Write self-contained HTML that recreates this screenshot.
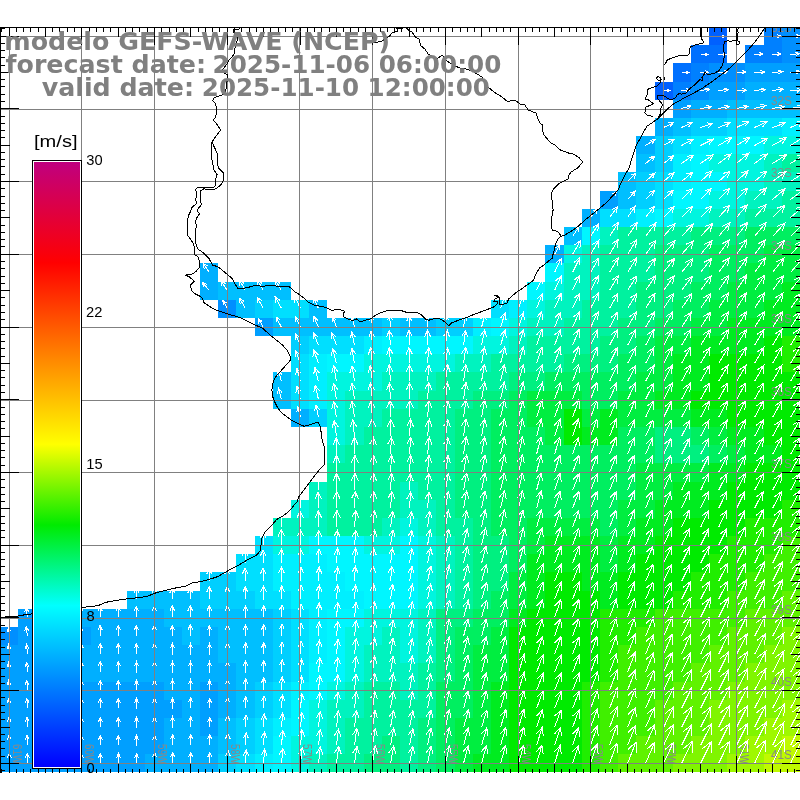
<!DOCTYPE html><html><head><meta charset="utf-8"><title>GEFS-WAVE</title><style>html,body{margin:0;padding:0;background:#fff;width:800px;height:800px;overflow:hidden}svg{display:block}.t{font-family:"DejaVu Sans","Liberation Sans",sans-serif;font-weight:bold;fill:#808080}.h{font-family:"Liberation Sans","DejaVu Sans",sans-serif;fill:#000}.g{font-family:"Liberation Sans","DejaVu Sans",sans-serif;fill:#888}</style></head><body><svg width="800" height="800" viewBox="0 0 800 800"><defs><clipPath id="map"><rect x="0" y="27" width="800" height="745.5"/></clipPath><linearGradient id="cb" x1="0" y1="1" x2="0" y2="0"><stop offset="0" stop-color="#0000ff"/><stop offset="0.2667" stop-color="#00ffff"/><stop offset="0.4000" stop-color="#00eb00"/><stop offset="0.5333" stop-color="#ffff00"/><stop offset="0.8333" stop-color="#ff0000"/><stop offset="1" stop-color="#c0007f"/></linearGradient></defs><g shape-rendering="crispEdges"><rect x="709" y="27" width="18" height="18" fill="#0060ff"/><rect x="764" y="27" width="18" height="18" fill="#0080ff"/><rect x="782" y="27" width="18" height="18" fill="#008fff"/><rect x="691" y="45" width="18" height="18" fill="#0070ff"/><rect x="709" y="45" width="18" height="18" fill="#0070ff"/><rect x="745" y="45" width="19" height="18" fill="#0080ff"/><rect x="764" y="45" width="18" height="18" fill="#0080ff"/><rect x="782" y="45" width="18" height="18" fill="#008fff"/><rect x="673" y="63" width="18" height="19" fill="#0070ff"/><rect x="691" y="63" width="18" height="19" fill="#0080ff"/><rect x="709" y="63" width="18" height="19" fill="#008fff"/><rect x="727" y="63" width="18" height="19" fill="#008fff"/><rect x="745" y="63" width="19" height="19" fill="#009fff"/><rect x="764" y="63" width="18" height="19" fill="#009fff"/><rect x="782" y="63" width="18" height="19" fill="#009fff"/><rect x="655" y="82" width="18" height="18" fill="#0060ff"/><rect x="673" y="82" width="18" height="18" fill="#0080ff"/><rect x="691" y="82" width="18" height="18" fill="#008fff"/><rect x="709" y="82" width="18" height="18" fill="#009fff"/><rect x="727" y="82" width="18" height="18" fill="#009fff"/><rect x="745" y="82" width="19" height="18" fill="#00afff"/><rect x="764" y="82" width="18" height="18" fill="#00afff"/><rect x="782" y="82" width="18" height="18" fill="#00afff"/><rect x="673" y="100" width="18" height="18" fill="#009fff"/><rect x="691" y="100" width="18" height="18" fill="#00afff"/><rect x="709" y="100" width="18" height="18" fill="#00afff"/><rect x="727" y="100" width="18" height="18" fill="#00bfff"/><rect x="745" y="100" width="19" height="18" fill="#00bfff"/><rect x="764" y="100" width="18" height="18" fill="#00bfff"/><rect x="782" y="100" width="18" height="18" fill="#00bfff"/><rect x="655" y="118" width="18" height="18" fill="#00afff"/><rect x="673" y="118" width="18" height="18" fill="#00bfff"/><rect x="691" y="118" width="18" height="18" fill="#00cfff"/><rect x="709" y="118" width="18" height="18" fill="#00cfff"/><rect x="727" y="118" width="18" height="18" fill="#00dfff"/><rect x="745" y="118" width="19" height="18" fill="#00dfff"/><rect x="764" y="118" width="18" height="18" fill="#00dfff"/><rect x="782" y="118" width="18" height="18" fill="#00efff"/><rect x="636" y="136" width="19" height="18" fill="#00afff"/><rect x="655" y="136" width="18" height="18" fill="#00cfff"/><rect x="673" y="136" width="18" height="18" fill="#00dfff"/><rect x="691" y="136" width="18" height="18" fill="#00efff"/><rect x="709" y="136" width="18" height="18" fill="#00f6ff"/><rect x="727" y="136" width="18" height="18" fill="#00f6ff"/><rect x="745" y="136" width="19" height="18" fill="#00f6ff"/><rect x="764" y="136" width="18" height="18" fill="#00f5df"/><rect x="782" y="136" width="18" height="18" fill="#00f5df"/><rect x="636" y="154" width="19" height="18" fill="#00bfff"/><rect x="655" y="154" width="18" height="18" fill="#00cfff"/><rect x="673" y="154" width="18" height="18" fill="#00efff"/><rect x="691" y="154" width="18" height="18" fill="#00f6ff"/><rect x="709" y="154" width="18" height="18" fill="#00f5df"/><rect x="727" y="154" width="18" height="18" fill="#00f5df"/><rect x="745" y="154" width="19" height="18" fill="#00f5df"/><rect x="764" y="154" width="18" height="18" fill="#00f3bf"/><rect x="782" y="154" width="18" height="18" fill="#00f29f"/><rect x="618" y="172" width="18" height="19" fill="#00bfff"/><rect x="636" y="172" width="19" height="19" fill="#00cfff"/><rect x="655" y="172" width="18" height="19" fill="#00dfff"/><rect x="673" y="172" width="18" height="19" fill="#00efff"/><rect x="691" y="172" width="18" height="19" fill="#00f6ff"/><rect x="709" y="172" width="18" height="19" fill="#00f6ff"/><rect x="727" y="172" width="18" height="19" fill="#00f5df"/><rect x="745" y="172" width="19" height="19" fill="#00f5df"/><rect x="764" y="172" width="18" height="19" fill="#00f3bf"/><rect x="782" y="172" width="18" height="19" fill="#00f3bf"/><rect x="600" y="191" width="18" height="18" fill="#009fff"/><rect x="618" y="191" width="18" height="18" fill="#00bfff"/><rect x="636" y="191" width="19" height="18" fill="#00cfff"/><rect x="655" y="191" width="18" height="18" fill="#00dfff"/><rect x="673" y="191" width="18" height="18" fill="#00f6ff"/><rect x="691" y="191" width="18" height="18" fill="#00f6ff"/><rect x="709" y="191" width="18" height="18" fill="#00f5df"/><rect x="727" y="191" width="18" height="18" fill="#00f5df"/><rect x="745" y="191" width="19" height="18" fill="#00f3bf"/><rect x="764" y="191" width="18" height="18" fill="#00f3bf"/><rect x="782" y="191" width="18" height="18" fill="#00f29f"/><rect x="582" y="209" width="18" height="18" fill="#00afff"/><rect x="600" y="209" width="18" height="18" fill="#00dfff"/><rect x="618" y="209" width="18" height="18" fill="#00dfff"/><rect x="636" y="209" width="19" height="18" fill="#00efff"/><rect x="655" y="209" width="18" height="18" fill="#00f6ff"/><rect x="673" y="209" width="18" height="18" fill="#00f5df"/><rect x="691" y="209" width="18" height="18" fill="#00f5df"/><rect x="709" y="209" width="18" height="18" fill="#00f3bf"/><rect x="727" y="209" width="18" height="18" fill="#00f3bf"/><rect x="745" y="209" width="19" height="18" fill="#00f29f"/><rect x="764" y="209" width="18" height="18" fill="#00f29f"/><rect x="782" y="209" width="18" height="18" fill="#00f29f"/><rect x="564" y="227" width="18" height="18" fill="#00bfff"/><rect x="582" y="227" width="18" height="18" fill="#00f6ff"/><rect x="600" y="227" width="18" height="18" fill="#00f3bf"/><rect x="618" y="227" width="18" height="18" fill="#00f29f"/><rect x="636" y="227" width="19" height="18" fill="#00f29f"/><rect x="655" y="227" width="18" height="18" fill="#00f29f"/><rect x="673" y="227" width="18" height="18" fill="#00f29f"/><rect x="691" y="227" width="18" height="18" fill="#00f080"/><rect x="709" y="227" width="18" height="18" fill="#00f080"/><rect x="727" y="227" width="18" height="18" fill="#00f080"/><rect x="745" y="227" width="19" height="18" fill="#00ef60"/><rect x="764" y="227" width="18" height="18" fill="#00ef60"/><rect x="782" y="227" width="18" height="18" fill="#00ef60"/><rect x="545" y="245" width="19" height="18" fill="#00afff"/><rect x="564" y="245" width="18" height="18" fill="#00f5df"/><rect x="582" y="245" width="18" height="18" fill="#00f3bf"/><rect x="600" y="245" width="18" height="18" fill="#00f29f"/><rect x="618" y="245" width="18" height="18" fill="#00f29f"/><rect x="636" y="245" width="19" height="18" fill="#00f29f"/><rect x="655" y="245" width="18" height="18" fill="#00f080"/><rect x="673" y="245" width="18" height="18" fill="#00f080"/><rect x="691" y="245" width="18" height="18" fill="#00f080"/><rect x="709" y="245" width="18" height="18" fill="#00ef60"/><rect x="727" y="245" width="18" height="18" fill="#00ef60"/><rect x="745" y="245" width="19" height="18" fill="#00ef60"/><rect x="764" y="245" width="18" height="18" fill="#00ee40"/><rect x="782" y="245" width="18" height="18" fill="#00ee40"/><rect x="200" y="263" width="18" height="19" fill="#00afff"/><rect x="545" y="263" width="19" height="19" fill="#00f6ff"/><rect x="564" y="263" width="18" height="19" fill="#00f3bf"/><rect x="582" y="263" width="18" height="19" fill="#00f3bf"/><rect x="600" y="263" width="18" height="19" fill="#00f29f"/><rect x="618" y="263" width="18" height="19" fill="#00f29f"/><rect x="636" y="263" width="19" height="19" fill="#00f29f"/><rect x="655" y="263" width="18" height="19" fill="#00f080"/><rect x="673" y="263" width="18" height="19" fill="#00f080"/><rect x="691" y="263" width="18" height="19" fill="#00f080"/><rect x="709" y="263" width="18" height="19" fill="#00ef60"/><rect x="727" y="263" width="18" height="19" fill="#00ef60"/><rect x="745" y="263" width="19" height="19" fill="#00ee40"/><rect x="764" y="263" width="18" height="19" fill="#00ee40"/><rect x="782" y="263" width="18" height="19" fill="#00ee40"/><rect x="200" y="282" width="18" height="18" fill="#00afff"/><rect x="218" y="282" width="18" height="18" fill="#00bfff"/><rect x="236" y="282" width="19" height="18" fill="#00bfff"/><rect x="255" y="282" width="18" height="18" fill="#00bfff"/><rect x="273" y="282" width="18" height="18" fill="#00bfff"/><rect x="527" y="282" width="18" height="18" fill="#00f6ff"/><rect x="545" y="282" width="19" height="18" fill="#00f5df"/><rect x="564" y="282" width="18" height="18" fill="#00f3bf"/><rect x="582" y="282" width="18" height="18" fill="#00f3bf"/><rect x="600" y="282" width="18" height="18" fill="#00f29f"/><rect x="618" y="282" width="18" height="18" fill="#00f29f"/><rect x="636" y="282" width="19" height="18" fill="#00f080"/><rect x="655" y="282" width="18" height="18" fill="#00f080"/><rect x="673" y="282" width="18" height="18" fill="#00f080"/><rect x="691" y="282" width="18" height="18" fill="#00ef60"/><rect x="709" y="282" width="18" height="18" fill="#00ef60"/><rect x="727" y="282" width="18" height="18" fill="#00ee40"/><rect x="745" y="282" width="19" height="18" fill="#00ee40"/><rect x="764" y="282" width="18" height="18" fill="#00ee40"/><rect x="782" y="282" width="18" height="18" fill="#00ec20"/><rect x="218" y="300" width="18" height="18" fill="#008fff"/><rect x="236" y="300" width="19" height="18" fill="#00bfff"/><rect x="255" y="300" width="18" height="18" fill="#00cfff"/><rect x="273" y="300" width="18" height="18" fill="#00dfff"/><rect x="291" y="300" width="18" height="18" fill="#00dfff"/><rect x="309" y="300" width="18" height="18" fill="#00bfff"/><rect x="491" y="300" width="18" height="18" fill="#00dfff"/><rect x="509" y="300" width="18" height="18" fill="#00efff"/><rect x="527" y="300" width="18" height="18" fill="#00f5df"/><rect x="545" y="300" width="19" height="18" fill="#00f3bf"/><rect x="564" y="300" width="18" height="18" fill="#00f3bf"/><rect x="582" y="300" width="18" height="18" fill="#00f29f"/><rect x="600" y="300" width="18" height="18" fill="#00f29f"/><rect x="618" y="300" width="18" height="18" fill="#00f29f"/><rect x="636" y="300" width="19" height="18" fill="#00f080"/><rect x="655" y="300" width="18" height="18" fill="#00f080"/><rect x="673" y="300" width="18" height="18" fill="#00ef60"/><rect x="691" y="300" width="18" height="18" fill="#00ef60"/><rect x="709" y="300" width="18" height="18" fill="#00ee40"/><rect x="727" y="300" width="18" height="18" fill="#00ee40"/><rect x="745" y="300" width="19" height="18" fill="#00ee40"/><rect x="764" y="300" width="18" height="18" fill="#00ec20"/><rect x="782" y="300" width="18" height="18" fill="#00ec20"/><rect x="255" y="318" width="18" height="18" fill="#009fff"/><rect x="273" y="318" width="18" height="18" fill="#00bfff"/><rect x="291" y="318" width="18" height="18" fill="#00bfff"/><rect x="309" y="318" width="18" height="18" fill="#00bfff"/><rect x="327" y="318" width="18" height="18" fill="#00bfff"/><rect x="345" y="318" width="19" height="18" fill="#00bfff"/><rect x="364" y="318" width="18" height="18" fill="#00bfff"/><rect x="382" y="318" width="18" height="18" fill="#00cfff"/><rect x="400" y="318" width="18" height="18" fill="#00bfff"/><rect x="418" y="318" width="18" height="18" fill="#00bfff"/><rect x="436" y="318" width="19" height="18" fill="#00cfff"/><rect x="455" y="318" width="18" height="18" fill="#00cfff"/><rect x="473" y="318" width="18" height="18" fill="#00efff"/><rect x="491" y="318" width="18" height="18" fill="#00f6ff"/><rect x="509" y="318" width="18" height="18" fill="#00f5df"/><rect x="527" y="318" width="18" height="18" fill="#00f3bf"/><rect x="545" y="318" width="19" height="18" fill="#00f3bf"/><rect x="564" y="318" width="18" height="18" fill="#00f29f"/><rect x="582" y="318" width="18" height="18" fill="#00f29f"/><rect x="600" y="318" width="18" height="18" fill="#00f29f"/><rect x="618" y="318" width="18" height="18" fill="#00f080"/><rect x="636" y="318" width="19" height="18" fill="#00f080"/><rect x="655" y="318" width="18" height="18" fill="#00ef60"/><rect x="673" y="318" width="18" height="18" fill="#00ef60"/><rect x="691" y="318" width="18" height="18" fill="#00ee40"/><rect x="709" y="318" width="18" height="18" fill="#00ee40"/><rect x="727" y="318" width="18" height="18" fill="#00ec20"/><rect x="745" y="318" width="19" height="18" fill="#00ec20"/><rect x="764" y="318" width="18" height="18" fill="#00ec20"/><rect x="782" y="318" width="18" height="18" fill="#00ec20"/><rect x="291" y="336" width="18" height="18" fill="#00cfff"/><rect x="309" y="336" width="18" height="18" fill="#00dfff"/><rect x="327" y="336" width="18" height="18" fill="#00dfff"/><rect x="345" y="336" width="19" height="18" fill="#00dfff"/><rect x="364" y="336" width="18" height="18" fill="#00efff"/><rect x="382" y="336" width="18" height="18" fill="#00f6ff"/><rect x="400" y="336" width="18" height="18" fill="#00f6ff"/><rect x="418" y="336" width="18" height="18" fill="#00f6ff"/><rect x="436" y="336" width="19" height="18" fill="#00f6ff"/><rect x="455" y="336" width="18" height="18" fill="#00f6ff"/><rect x="473" y="336" width="18" height="18" fill="#00f5df"/><rect x="491" y="336" width="18" height="18" fill="#00f5df"/><rect x="509" y="336" width="18" height="18" fill="#00f3bf"/><rect x="527" y="336" width="18" height="18" fill="#00f29f"/><rect x="545" y="336" width="19" height="18" fill="#00f29f"/><rect x="564" y="336" width="18" height="18" fill="#00f29f"/><rect x="582" y="336" width="18" height="18" fill="#00f29f"/><rect x="600" y="336" width="18" height="18" fill="#00f080"/><rect x="618" y="336" width="18" height="18" fill="#00f080"/><rect x="636" y="336" width="19" height="18" fill="#00ef60"/><rect x="655" y="336" width="18" height="18" fill="#00ee40"/><rect x="673" y="336" width="18" height="18" fill="#00ee40"/><rect x="691" y="336" width="18" height="18" fill="#00ec20"/><rect x="709" y="336" width="18" height="18" fill="#00ec20"/><rect x="727" y="336" width="18" height="18" fill="#00ec20"/><rect x="745" y="336" width="19" height="18" fill="#00ec20"/><rect x="764" y="336" width="18" height="18" fill="#00eb00"/><rect x="782" y="336" width="18" height="18" fill="#20ee00"/><rect x="291" y="354" width="18" height="18" fill="#00dfff"/><rect x="309" y="354" width="18" height="18" fill="#00efff"/><rect x="327" y="354" width="18" height="18" fill="#00f6ff"/><rect x="345" y="354" width="19" height="18" fill="#00f6ff"/><rect x="364" y="354" width="18" height="18" fill="#00f5df"/><rect x="382" y="354" width="18" height="18" fill="#00f5df"/><rect x="400" y="354" width="18" height="18" fill="#00f5df"/><rect x="418" y="354" width="18" height="18" fill="#00f5df"/><rect x="436" y="354" width="19" height="18" fill="#00f5df"/><rect x="455" y="354" width="18" height="18" fill="#00f3bf"/><rect x="473" y="354" width="18" height="18" fill="#00f3bf"/><rect x="491" y="354" width="18" height="18" fill="#00f29f"/><rect x="509" y="354" width="18" height="18" fill="#00f29f"/><rect x="527" y="354" width="18" height="18" fill="#00f29f"/><rect x="545" y="354" width="19" height="18" fill="#00f29f"/><rect x="564" y="354" width="18" height="18" fill="#00f080"/><rect x="582" y="354" width="18" height="18" fill="#00f080"/><rect x="600" y="354" width="18" height="18" fill="#00f080"/><rect x="618" y="354" width="18" height="18" fill="#00ef60"/><rect x="636" y="354" width="19" height="18" fill="#00ef60"/><rect x="655" y="354" width="18" height="18" fill="#00ee40"/><rect x="673" y="354" width="18" height="18" fill="#00ec20"/><rect x="691" y="354" width="18" height="18" fill="#00ec20"/><rect x="709" y="354" width="18" height="18" fill="#00eb00"/><rect x="727" y="354" width="18" height="18" fill="#00eb00"/><rect x="745" y="354" width="19" height="18" fill="#00eb00"/><rect x="764" y="354" width="18" height="18" fill="#00eb00"/><rect x="782" y="354" width="18" height="18" fill="#20ee00"/><rect x="273" y="372" width="18" height="19" fill="#00bfff"/><rect x="291" y="372" width="18" height="19" fill="#00dfff"/><rect x="309" y="372" width="18" height="19" fill="#00efff"/><rect x="327" y="372" width="18" height="19" fill="#00f5df"/><rect x="345" y="372" width="19" height="19" fill="#00f5df"/><rect x="364" y="372" width="18" height="19" fill="#00f5df"/><rect x="382" y="372" width="18" height="19" fill="#00f3bf"/><rect x="400" y="372" width="18" height="19" fill="#00f3bf"/><rect x="418" y="372" width="18" height="19" fill="#00f3bf"/><rect x="436" y="372" width="19" height="19" fill="#00f29f"/><rect x="455" y="372" width="18" height="19" fill="#00f29f"/><rect x="473" y="372" width="18" height="19" fill="#00f29f"/><rect x="491" y="372" width="18" height="19" fill="#00f29f"/><rect x="509" y="372" width="18" height="19" fill="#00f080"/><rect x="527" y="372" width="18" height="19" fill="#00f080"/><rect x="545" y="372" width="19" height="19" fill="#00ef60"/><rect x="564" y="372" width="18" height="19" fill="#00ef60"/><rect x="582" y="372" width="18" height="19" fill="#00ef60"/><rect x="600" y="372" width="18" height="19" fill="#00ef60"/><rect x="618" y="372" width="18" height="19" fill="#00ef60"/><rect x="636" y="372" width="19" height="19" fill="#00ee40"/><rect x="655" y="372" width="18" height="19" fill="#00ee40"/><rect x="673" y="372" width="18" height="19" fill="#00ec20"/><rect x="691" y="372" width="18" height="19" fill="#00ec20"/><rect x="709" y="372" width="18" height="19" fill="#00eb00"/><rect x="727" y="372" width="18" height="19" fill="#00eb00"/><rect x="745" y="372" width="19" height="19" fill="#00eb00"/><rect x="764" y="372" width="18" height="19" fill="#00eb00"/><rect x="782" y="372" width="18" height="19" fill="#00eb00"/><rect x="273" y="391" width="18" height="18" fill="#00bfff"/><rect x="291" y="391" width="18" height="18" fill="#00dfff"/><rect x="309" y="391" width="18" height="18" fill="#00efff"/><rect x="327" y="391" width="18" height="18" fill="#00f5df"/><rect x="345" y="391" width="19" height="18" fill="#00f3bf"/><rect x="364" y="391" width="18" height="18" fill="#00f3bf"/><rect x="382" y="391" width="18" height="18" fill="#00f3bf"/><rect x="400" y="391" width="18" height="18" fill="#00f3bf"/><rect x="418" y="391" width="18" height="18" fill="#00f29f"/><rect x="436" y="391" width="19" height="18" fill="#00f29f"/><rect x="455" y="391" width="18" height="18" fill="#00f29f"/><rect x="473" y="391" width="18" height="18" fill="#00f080"/><rect x="491" y="391" width="18" height="18" fill="#00f080"/><rect x="509" y="391" width="18" height="18" fill="#00ef60"/><rect x="527" y="391" width="18" height="18" fill="#00ee40"/><rect x="545" y="391" width="19" height="18" fill="#00ee40"/><rect x="564" y="391" width="18" height="18" fill="#00ee40"/><rect x="582" y="391" width="18" height="18" fill="#00ef60"/><rect x="600" y="391" width="18" height="18" fill="#00ef60"/><rect x="618" y="391" width="18" height="18" fill="#00ee40"/><rect x="636" y="391" width="19" height="18" fill="#00ee40"/><rect x="655" y="391" width="18" height="18" fill="#00ec20"/><rect x="673" y="391" width="18" height="18" fill="#00ec20"/><rect x="691" y="391" width="18" height="18" fill="#00eb00"/><rect x="709" y="391" width="18" height="18" fill="#00eb00"/><rect x="727" y="391" width="18" height="18" fill="#00eb00"/><rect x="745" y="391" width="19" height="18" fill="#00eb00"/><rect x="764" y="391" width="18" height="18" fill="#00eb00"/><rect x="782" y="391" width="18" height="18" fill="#00eb00"/><rect x="291" y="409" width="18" height="18" fill="#00afff"/><rect x="309" y="409" width="18" height="18" fill="#00cfff"/><rect x="327" y="409" width="18" height="18" fill="#00f5df"/><rect x="345" y="409" width="19" height="18" fill="#00f3bf"/><rect x="364" y="409" width="18" height="18" fill="#00f3bf"/><rect x="382" y="409" width="18" height="18" fill="#00f29f"/><rect x="400" y="409" width="18" height="18" fill="#00f29f"/><rect x="418" y="409" width="18" height="18" fill="#00f29f"/><rect x="436" y="409" width="19" height="18" fill="#00f29f"/><rect x="455" y="409" width="18" height="18" fill="#00f080"/><rect x="473" y="409" width="18" height="18" fill="#00f080"/><rect x="491" y="409" width="18" height="18" fill="#00ef60"/><rect x="509" y="409" width="18" height="18" fill="#00ef60"/><rect x="527" y="409" width="18" height="18" fill="#00ee40"/><rect x="545" y="409" width="19" height="18" fill="#00ee40"/><rect x="564" y="409" width="18" height="18" fill="#00eb00"/><rect x="582" y="409" width="18" height="18" fill="#00ee40"/><rect x="600" y="409" width="18" height="18" fill="#00ec20"/><rect x="618" y="409" width="18" height="18" fill="#00ee40"/><rect x="636" y="409" width="19" height="18" fill="#00ee40"/><rect x="655" y="409" width="18" height="18" fill="#00ee40"/><rect x="673" y="409" width="18" height="18" fill="#00ee40"/><rect x="691" y="409" width="18" height="18" fill="#00ec20"/><rect x="709" y="409" width="18" height="18" fill="#00ec20"/><rect x="727" y="409" width="18" height="18" fill="#00eb00"/><rect x="745" y="409" width="19" height="18" fill="#00eb00"/><rect x="764" y="409" width="18" height="18" fill="#00eb00"/><rect x="782" y="409" width="18" height="18" fill="#00eb00"/><rect x="327" y="427" width="18" height="18" fill="#00f5df"/><rect x="345" y="427" width="19" height="18" fill="#00f3bf"/><rect x="364" y="427" width="18" height="18" fill="#00f29f"/><rect x="382" y="427" width="18" height="18" fill="#00f29f"/><rect x="400" y="427" width="18" height="18" fill="#00f29f"/><rect x="418" y="427" width="18" height="18" fill="#00f29f"/><rect x="436" y="427" width="19" height="18" fill="#00f29f"/><rect x="455" y="427" width="18" height="18" fill="#00f080"/><rect x="473" y="427" width="18" height="18" fill="#00f080"/><rect x="491" y="427" width="18" height="18" fill="#00ef60"/><rect x="509" y="427" width="18" height="18" fill="#00ef60"/><rect x="527" y="427" width="18" height="18" fill="#00ef60"/><rect x="545" y="427" width="19" height="18" fill="#00ee40"/><rect x="564" y="427" width="18" height="18" fill="#00eb00"/><rect x="582" y="427" width="18" height="18" fill="#00ec20"/><rect x="600" y="427" width="18" height="18" fill="#00ec20"/><rect x="618" y="427" width="18" height="18" fill="#00ef60"/><rect x="636" y="427" width="19" height="18" fill="#00ef60"/><rect x="655" y="427" width="18" height="18" fill="#00f080"/><rect x="673" y="427" width="18" height="18" fill="#00f080"/><rect x="691" y="427" width="18" height="18" fill="#00ef60"/><rect x="709" y="427" width="18" height="18" fill="#00ee40"/><rect x="727" y="427" width="18" height="18" fill="#00ec20"/><rect x="745" y="427" width="19" height="18" fill="#00ec20"/><rect x="764" y="427" width="18" height="18" fill="#00eb00"/><rect x="782" y="427" width="18" height="18" fill="#00eb00"/><rect x="327" y="445" width="18" height="18" fill="#00f3bf"/><rect x="345" y="445" width="19" height="18" fill="#00f29f"/><rect x="364" y="445" width="18" height="18" fill="#00f29f"/><rect x="382" y="445" width="18" height="18" fill="#00f29f"/><rect x="400" y="445" width="18" height="18" fill="#00f29f"/><rect x="418" y="445" width="18" height="18" fill="#00f29f"/><rect x="436" y="445" width="19" height="18" fill="#00f29f"/><rect x="455" y="445" width="18" height="18" fill="#00f080"/><rect x="473" y="445" width="18" height="18" fill="#00f080"/><rect x="491" y="445" width="18" height="18" fill="#00ef60"/><rect x="509" y="445" width="18" height="18" fill="#00ef60"/><rect x="527" y="445" width="18" height="18" fill="#00ef60"/><rect x="545" y="445" width="19" height="18" fill="#00ef60"/><rect x="564" y="445" width="18" height="18" fill="#00ef60"/><rect x="582" y="445" width="18" height="18" fill="#00ef60"/><rect x="600" y="445" width="18" height="18" fill="#00ef60"/><rect x="618" y="445" width="18" height="18" fill="#00ef60"/><rect x="636" y="445" width="19" height="18" fill="#00ef60"/><rect x="655" y="445" width="18" height="18" fill="#00f080"/><rect x="673" y="445" width="18" height="18" fill="#00f080"/><rect x="691" y="445" width="18" height="18" fill="#00f080"/><rect x="709" y="445" width="18" height="18" fill="#00ef60"/><rect x="727" y="445" width="18" height="18" fill="#00ee40"/><rect x="745" y="445" width="19" height="18" fill="#00ec20"/><rect x="764" y="445" width="18" height="18" fill="#00ec20"/><rect x="782" y="445" width="18" height="18" fill="#00eb00"/><rect x="327" y="463" width="18" height="19" fill="#00f29f"/><rect x="345" y="463" width="19" height="19" fill="#00f29f"/><rect x="364" y="463" width="18" height="19" fill="#00f29f"/><rect x="382" y="463" width="18" height="19" fill="#00f29f"/><rect x="400" y="463" width="18" height="19" fill="#00f29f"/><rect x="418" y="463" width="18" height="19" fill="#00f29f"/><rect x="436" y="463" width="19" height="19" fill="#00f29f"/><rect x="455" y="463" width="18" height="19" fill="#00f080"/><rect x="473" y="463" width="18" height="19" fill="#00f080"/><rect x="491" y="463" width="18" height="19" fill="#00ef60"/><rect x="509" y="463" width="18" height="19" fill="#00ef60"/><rect x="527" y="463" width="18" height="19" fill="#00ef60"/><rect x="545" y="463" width="19" height="19" fill="#00ef60"/><rect x="564" y="463" width="18" height="19" fill="#00ef60"/><rect x="582" y="463" width="18" height="19" fill="#00ef60"/><rect x="600" y="463" width="18" height="19" fill="#00ef60"/><rect x="618" y="463" width="18" height="19" fill="#00ef60"/><rect x="636" y="463" width="19" height="19" fill="#00ee40"/><rect x="655" y="463" width="18" height="19" fill="#00ee40"/><rect x="673" y="463" width="18" height="19" fill="#00ee40"/><rect x="691" y="463" width="18" height="19" fill="#00ee40"/><rect x="709" y="463" width="18" height="19" fill="#00ec20"/><rect x="727" y="463" width="18" height="19" fill="#00ec20"/><rect x="745" y="463" width="19" height="19" fill="#00eb00"/><rect x="764" y="463" width="18" height="19" fill="#00eb00"/><rect x="782" y="463" width="18" height="19" fill="#00eb00"/><rect x="309" y="482" width="18" height="18" fill="#00f3bf"/><rect x="327" y="482" width="18" height="18" fill="#00f29f"/><rect x="345" y="482" width="19" height="18" fill="#00f29f"/><rect x="364" y="482" width="18" height="18" fill="#00f29f"/><rect x="382" y="482" width="18" height="18" fill="#00f29f"/><rect x="400" y="482" width="18" height="18" fill="#00f3bf"/><rect x="418" y="482" width="18" height="18" fill="#00f29f"/><rect x="436" y="482" width="19" height="18" fill="#00f29f"/><rect x="455" y="482" width="18" height="18" fill="#00f080"/><rect x="473" y="482" width="18" height="18" fill="#00f080"/><rect x="491" y="482" width="18" height="18" fill="#00ef60"/><rect x="509" y="482" width="18" height="18" fill="#00ef60"/><rect x="527" y="482" width="18" height="18" fill="#00ef60"/><rect x="545" y="482" width="19" height="18" fill="#00ef60"/><rect x="564" y="482" width="18" height="18" fill="#00ef60"/><rect x="582" y="482" width="18" height="18" fill="#00ef60"/><rect x="600" y="482" width="18" height="18" fill="#00ef60"/><rect x="618" y="482" width="18" height="18" fill="#00ef60"/><rect x="636" y="482" width="19" height="18" fill="#00ee40"/><rect x="655" y="482" width="18" height="18" fill="#00ee40"/><rect x="673" y="482" width="18" height="18" fill="#00ec20"/><rect x="691" y="482" width="18" height="18" fill="#00ec20"/><rect x="709" y="482" width="18" height="18" fill="#00ec20"/><rect x="727" y="482" width="18" height="18" fill="#00eb00"/><rect x="745" y="482" width="19" height="18" fill="#00eb00"/><rect x="764" y="482" width="18" height="18" fill="#00eb00"/><rect x="782" y="482" width="18" height="18" fill="#00eb00"/><rect x="291" y="500" width="18" height="18" fill="#00f5df"/><rect x="309" y="500" width="18" height="18" fill="#00f3bf"/><rect x="327" y="500" width="18" height="18" fill="#00f29f"/><rect x="345" y="500" width="19" height="18" fill="#00f29f"/><rect x="364" y="500" width="18" height="18" fill="#00f29f"/><rect x="382" y="500" width="18" height="18" fill="#00f29f"/><rect x="400" y="500" width="18" height="18" fill="#00f3bf"/><rect x="418" y="500" width="18" height="18" fill="#00f3bf"/><rect x="436" y="500" width="19" height="18" fill="#00f29f"/><rect x="455" y="500" width="18" height="18" fill="#00f080"/><rect x="473" y="500" width="18" height="18" fill="#00f080"/><rect x="491" y="500" width="18" height="18" fill="#00ef60"/><rect x="509" y="500" width="18" height="18" fill="#00ef60"/><rect x="527" y="500" width="18" height="18" fill="#00ef60"/><rect x="545" y="500" width="19" height="18" fill="#00ef60"/><rect x="564" y="500" width="18" height="18" fill="#00ef60"/><rect x="582" y="500" width="18" height="18" fill="#00ef60"/><rect x="600" y="500" width="18" height="18" fill="#00ef60"/><rect x="618" y="500" width="18" height="18" fill="#00ee40"/><rect x="636" y="500" width="19" height="18" fill="#00ee40"/><rect x="655" y="500" width="18" height="18" fill="#00ec20"/><rect x="673" y="500" width="18" height="18" fill="#00ec20"/><rect x="691" y="500" width="18" height="18" fill="#00ec20"/><rect x="709" y="500" width="18" height="18" fill="#00eb00"/><rect x="727" y="500" width="18" height="18" fill="#00eb00"/><rect x="745" y="500" width="19" height="18" fill="#00eb00"/><rect x="764" y="500" width="18" height="18" fill="#00eb00"/><rect x="782" y="500" width="18" height="18" fill="#20ee00"/><rect x="273" y="518" width="18" height="18" fill="#00f3bf"/><rect x="291" y="518" width="18" height="18" fill="#00f3bf"/><rect x="309" y="518" width="18" height="18" fill="#00f3bf"/><rect x="327" y="518" width="18" height="18" fill="#00f29f"/><rect x="345" y="518" width="19" height="18" fill="#00f29f"/><rect x="364" y="518" width="18" height="18" fill="#00f29f"/><rect x="382" y="518" width="18" height="18" fill="#00f3bf"/><rect x="400" y="518" width="18" height="18" fill="#00f5df"/><rect x="418" y="518" width="18" height="18" fill="#00f3bf"/><rect x="436" y="518" width="19" height="18" fill="#00f29f"/><rect x="455" y="518" width="18" height="18" fill="#00f29f"/><rect x="473" y="518" width="18" height="18" fill="#00f080"/><rect x="491" y="518" width="18" height="18" fill="#00ef60"/><rect x="509" y="518" width="18" height="18" fill="#00ef60"/><rect x="527" y="518" width="18" height="18" fill="#00ee40"/><rect x="545" y="518" width="19" height="18" fill="#00ee40"/><rect x="564" y="518" width="18" height="18" fill="#00ee40"/><rect x="582" y="518" width="18" height="18" fill="#00ee40"/><rect x="600" y="518" width="18" height="18" fill="#00ef60"/><rect x="618" y="518" width="18" height="18" fill="#00ee40"/><rect x="636" y="518" width="19" height="18" fill="#00ec20"/><rect x="655" y="518" width="18" height="18" fill="#00ec20"/><rect x="673" y="518" width="18" height="18" fill="#00eb00"/><rect x="691" y="518" width="18" height="18" fill="#00eb00"/><rect x="709" y="518" width="18" height="18" fill="#00eb00"/><rect x="727" y="518" width="18" height="18" fill="#00eb00"/><rect x="745" y="518" width="19" height="18" fill="#20ee00"/><rect x="764" y="518" width="18" height="18" fill="#20ee00"/><rect x="782" y="518" width="18" height="18" fill="#20ee00"/><rect x="255" y="536" width="18" height="18" fill="#00dfff"/><rect x="273" y="536" width="18" height="18" fill="#00f5df"/><rect x="291" y="536" width="18" height="18" fill="#00f5df"/><rect x="309" y="536" width="18" height="18" fill="#00f6ff"/><rect x="327" y="536" width="18" height="18" fill="#00f6ff"/><rect x="345" y="536" width="19" height="18" fill="#00f6ff"/><rect x="364" y="536" width="18" height="18" fill="#00f5df"/><rect x="382" y="536" width="18" height="18" fill="#00f5df"/><rect x="400" y="536" width="18" height="18" fill="#00f6ff"/><rect x="418" y="536" width="18" height="18" fill="#00f5df"/><rect x="436" y="536" width="19" height="18" fill="#00f3bf"/><rect x="455" y="536" width="18" height="18" fill="#00f29f"/><rect x="473" y="536" width="18" height="18" fill="#00f080"/><rect x="491" y="536" width="18" height="18" fill="#00f080"/><rect x="509" y="536" width="18" height="18" fill="#00ef60"/><rect x="527" y="536" width="18" height="18" fill="#00ee40"/><rect x="545" y="536" width="19" height="18" fill="#00ec20"/><rect x="564" y="536" width="18" height="18" fill="#00ec20"/><rect x="582" y="536" width="18" height="18" fill="#00ec20"/><rect x="600" y="536" width="18" height="18" fill="#00ee40"/><rect x="618" y="536" width="18" height="18" fill="#00ec20"/><rect x="636" y="536" width="19" height="18" fill="#00ec20"/><rect x="655" y="536" width="18" height="18" fill="#00eb00"/><rect x="673" y="536" width="18" height="18" fill="#00eb00"/><rect x="691" y="536" width="18" height="18" fill="#00eb00"/><rect x="709" y="536" width="18" height="18" fill="#00eb00"/><rect x="727" y="536" width="18" height="18" fill="#20ee00"/><rect x="745" y="536" width="19" height="18" fill="#20ee00"/><rect x="764" y="536" width="18" height="18" fill="#20ee00"/><rect x="782" y="536" width="18" height="18" fill="#40f000"/><rect x="236" y="554" width="19" height="18" fill="#00dfff"/><rect x="255" y="554" width="18" height="18" fill="#00dfff"/><rect x="273" y="554" width="18" height="18" fill="#00efff"/><rect x="291" y="554" width="18" height="18" fill="#00efff"/><rect x="309" y="554" width="18" height="18" fill="#00efff"/><rect x="327" y="554" width="18" height="18" fill="#00f6ff"/><rect x="345" y="554" width="19" height="18" fill="#00f6ff"/><rect x="364" y="554" width="18" height="18" fill="#00f6ff"/><rect x="382" y="554" width="18" height="18" fill="#00f6ff"/><rect x="400" y="554" width="18" height="18" fill="#00f6ff"/><rect x="418" y="554" width="18" height="18" fill="#00f5df"/><rect x="436" y="554" width="19" height="18" fill="#00f3bf"/><rect x="455" y="554" width="18" height="18" fill="#00f29f"/><rect x="473" y="554" width="18" height="18" fill="#00f080"/><rect x="491" y="554" width="18" height="18" fill="#00f080"/><rect x="509" y="554" width="18" height="18" fill="#00ef60"/><rect x="527" y="554" width="18" height="18" fill="#00ec20"/><rect x="545" y="554" width="19" height="18" fill="#00ec20"/><rect x="564" y="554" width="18" height="18" fill="#00ec20"/><rect x="582" y="554" width="18" height="18" fill="#00ec20"/><rect x="600" y="554" width="18" height="18" fill="#00ee40"/><rect x="618" y="554" width="18" height="18" fill="#00ec20"/><rect x="636" y="554" width="19" height="18" fill="#00eb00"/><rect x="655" y="554" width="18" height="18" fill="#00eb00"/><rect x="673" y="554" width="18" height="18" fill="#00eb00"/><rect x="691" y="554" width="18" height="18" fill="#00eb00"/><rect x="709" y="554" width="18" height="18" fill="#20ee00"/><rect x="727" y="554" width="18" height="18" fill="#20ee00"/><rect x="745" y="554" width="19" height="18" fill="#20ee00"/><rect x="764" y="554" width="18" height="18" fill="#40f000"/><rect x="782" y="554" width="18" height="18" fill="#40f000"/><rect x="200" y="572" width="18" height="19" fill="#00cfff"/><rect x="218" y="572" width="18" height="19" fill="#00cfff"/><rect x="236" y="572" width="19" height="19" fill="#00dfff"/><rect x="255" y="572" width="18" height="19" fill="#00dfff"/><rect x="273" y="572" width="18" height="19" fill="#00efff"/><rect x="291" y="572" width="18" height="19" fill="#00efff"/><rect x="309" y="572" width="18" height="19" fill="#00efff"/><rect x="327" y="572" width="18" height="19" fill="#00efff"/><rect x="345" y="572" width="19" height="19" fill="#00f6ff"/><rect x="364" y="572" width="18" height="19" fill="#00f6ff"/><rect x="382" y="572" width="18" height="19" fill="#00f6ff"/><rect x="400" y="572" width="18" height="19" fill="#00f6ff"/><rect x="418" y="572" width="18" height="19" fill="#00f5df"/><rect x="436" y="572" width="19" height="19" fill="#00f3bf"/><rect x="455" y="572" width="18" height="19" fill="#00f29f"/><rect x="473" y="572" width="18" height="19" fill="#00f080"/><rect x="491" y="572" width="18" height="19" fill="#00f080"/><rect x="509" y="572" width="18" height="19" fill="#00ee40"/><rect x="527" y="572" width="18" height="19" fill="#00ec20"/><rect x="545" y="572" width="19" height="19" fill="#00eb00"/><rect x="564" y="572" width="18" height="19" fill="#00eb00"/><rect x="582" y="572" width="18" height="19" fill="#00ec20"/><rect x="600" y="572" width="18" height="19" fill="#00ec20"/><rect x="618" y="572" width="18" height="19" fill="#00eb00"/><rect x="636" y="572" width="19" height="19" fill="#00eb00"/><rect x="655" y="572" width="18" height="19" fill="#00eb00"/><rect x="673" y="572" width="18" height="19" fill="#00eb00"/><rect x="691" y="572" width="18" height="19" fill="#20ee00"/><rect x="709" y="572" width="18" height="19" fill="#20ee00"/><rect x="727" y="572" width="18" height="19" fill="#20ee00"/><rect x="745" y="572" width="19" height="19" fill="#40f000"/><rect x="764" y="572" width="18" height="19" fill="#40f000"/><rect x="782" y="572" width="18" height="19" fill="#40f000"/><rect x="127" y="591" width="18" height="18" fill="#00bfff"/><rect x="145" y="591" width="19" height="18" fill="#00bfff"/><rect x="164" y="591" width="18" height="18" fill="#00bfff"/><rect x="182" y="591" width="18" height="18" fill="#00bfff"/><rect x="200" y="591" width="18" height="18" fill="#00cfff"/><rect x="218" y="591" width="18" height="18" fill="#00cfff"/><rect x="236" y="591" width="19" height="18" fill="#00cfff"/><rect x="255" y="591" width="18" height="18" fill="#00dfff"/><rect x="273" y="591" width="18" height="18" fill="#00dfff"/><rect x="291" y="591" width="18" height="18" fill="#00efff"/><rect x="309" y="591" width="18" height="18" fill="#00efff"/><rect x="327" y="591" width="18" height="18" fill="#00efff"/><rect x="345" y="591" width="19" height="18" fill="#00efff"/><rect x="364" y="591" width="18" height="18" fill="#00f6ff"/><rect x="382" y="591" width="18" height="18" fill="#00f6ff"/><rect x="400" y="591" width="18" height="18" fill="#00f6ff"/><rect x="418" y="591" width="18" height="18" fill="#00f5df"/><rect x="436" y="591" width="19" height="18" fill="#00f3bf"/><rect x="455" y="591" width="18" height="18" fill="#00f29f"/><rect x="473" y="591" width="18" height="18" fill="#00f080"/><rect x="491" y="591" width="18" height="18" fill="#00ef60"/><rect x="509" y="591" width="18" height="18" fill="#00ee40"/><rect x="527" y="591" width="18" height="18" fill="#00ec20"/><rect x="545" y="591" width="19" height="18" fill="#00eb00"/><rect x="564" y="591" width="18" height="18" fill="#00eb00"/><rect x="582" y="591" width="18" height="18" fill="#00eb00"/><rect x="600" y="591" width="18" height="18" fill="#00ec20"/><rect x="618" y="591" width="18" height="18" fill="#00eb00"/><rect x="636" y="591" width="19" height="18" fill="#00eb00"/><rect x="655" y="591" width="18" height="18" fill="#00eb00"/><rect x="673" y="591" width="18" height="18" fill="#20ee00"/><rect x="691" y="591" width="18" height="18" fill="#20ee00"/><rect x="709" y="591" width="18" height="18" fill="#20ee00"/><rect x="727" y="591" width="18" height="18" fill="#40f000"/><rect x="745" y="591" width="19" height="18" fill="#40f000"/><rect x="764" y="591" width="18" height="18" fill="#40f000"/><rect x="782" y="591" width="18" height="18" fill="#60f200"/><rect x="18" y="609" width="18" height="18" fill="#009fff"/><rect x="36" y="609" width="19" height="18" fill="#00afff"/><rect x="55" y="609" width="18" height="18" fill="#00afff"/><rect x="73" y="609" width="18" height="18" fill="#00afff"/><rect x="91" y="609" width="18" height="18" fill="#00afff"/><rect x="109" y="609" width="18" height="18" fill="#00afff"/><rect x="127" y="609" width="18" height="18" fill="#00afff"/><rect x="145" y="609" width="19" height="18" fill="#00afff"/><rect x="164" y="609" width="18" height="18" fill="#00bfff"/><rect x="182" y="609" width="18" height="18" fill="#00bfff"/><rect x="200" y="609" width="18" height="18" fill="#00bfff"/><rect x="218" y="609" width="18" height="18" fill="#00bfff"/><rect x="236" y="609" width="19" height="18" fill="#00bfff"/><rect x="255" y="609" width="18" height="18" fill="#00bfff"/><rect x="273" y="609" width="18" height="18" fill="#00cfff"/><rect x="291" y="609" width="18" height="18" fill="#00dfff"/><rect x="309" y="609" width="18" height="18" fill="#00efff"/><rect x="327" y="609" width="18" height="18" fill="#00f6ff"/><rect x="345" y="609" width="19" height="18" fill="#00f6ff"/><rect x="364" y="609" width="18" height="18" fill="#00f5df"/><rect x="382" y="609" width="18" height="18" fill="#00f5df"/><rect x="400" y="609" width="18" height="18" fill="#00f5df"/><rect x="418" y="609" width="18" height="18" fill="#00f3bf"/><rect x="436" y="609" width="19" height="18" fill="#00f080"/><rect x="455" y="609" width="18" height="18" fill="#00f080"/><rect x="473" y="609" width="18" height="18" fill="#00ef60"/><rect x="491" y="609" width="18" height="18" fill="#00ef60"/><rect x="509" y="609" width="18" height="18" fill="#00ec20"/><rect x="527" y="609" width="18" height="18" fill="#00eb00"/><rect x="545" y="609" width="19" height="18" fill="#00eb00"/><rect x="564" y="609" width="18" height="18" fill="#00eb00"/><rect x="582" y="609" width="18" height="18" fill="#00eb00"/><rect x="600" y="609" width="18" height="18" fill="#20ee00"/><rect x="618" y="609" width="18" height="18" fill="#20ee00"/><rect x="636" y="609" width="19" height="18" fill="#20ee00"/><rect x="655" y="609" width="18" height="18" fill="#40f000"/><rect x="673" y="609" width="18" height="18" fill="#40f000"/><rect x="691" y="609" width="18" height="18" fill="#40f000"/><rect x="709" y="609" width="18" height="18" fill="#40f000"/><rect x="727" y="609" width="18" height="18" fill="#40f000"/><rect x="745" y="609" width="19" height="18" fill="#60f200"/><rect x="764" y="609" width="18" height="18" fill="#60f200"/><rect x="782" y="609" width="18" height="18" fill="#60f200"/><rect x="0" y="627" width="18" height="18" fill="#008fff"/><rect x="18" y="627" width="18" height="18" fill="#009fff"/><rect x="36" y="627" width="19" height="18" fill="#00afff"/><rect x="55" y="627" width="18" height="18" fill="#00afff"/><rect x="73" y="627" width="18" height="18" fill="#009fff"/><rect x="91" y="627" width="18" height="18" fill="#00afff"/><rect x="109" y="627" width="18" height="18" fill="#00afff"/><rect x="127" y="627" width="18" height="18" fill="#00afff"/><rect x="145" y="627" width="19" height="18" fill="#00afff"/><rect x="164" y="627" width="18" height="18" fill="#00afff"/><rect x="182" y="627" width="18" height="18" fill="#00bfff"/><rect x="200" y="627" width="18" height="18" fill="#00afff"/><rect x="218" y="627" width="18" height="18" fill="#00bfff"/><rect x="236" y="627" width="19" height="18" fill="#00bfff"/><rect x="255" y="627" width="18" height="18" fill="#00bfff"/><rect x="273" y="627" width="18" height="18" fill="#00cfff"/><rect x="291" y="627" width="18" height="18" fill="#00dfff"/><rect x="309" y="627" width="18" height="18" fill="#00efff"/><rect x="327" y="627" width="18" height="18" fill="#00f6ff"/><rect x="345" y="627" width="19" height="18" fill="#00f5df"/><rect x="364" y="627" width="18" height="18" fill="#00f5df"/><rect x="382" y="627" width="18" height="18" fill="#00f3bf"/><rect x="400" y="627" width="18" height="18" fill="#00f5df"/><rect x="418" y="627" width="18" height="18" fill="#00f3bf"/><rect x="436" y="627" width="19" height="18" fill="#00f080"/><rect x="455" y="627" width="18" height="18" fill="#00ef60"/><rect x="473" y="627" width="18" height="18" fill="#00ef60"/><rect x="491" y="627" width="18" height="18" fill="#00ee40"/><rect x="509" y="627" width="18" height="18" fill="#00eb00"/><rect x="527" y="627" width="18" height="18" fill="#00eb00"/><rect x="545" y="627" width="19" height="18" fill="#00eb00"/><rect x="564" y="627" width="18" height="18" fill="#00eb00"/><rect x="582" y="627" width="18" height="18" fill="#00eb00"/><rect x="600" y="627" width="18" height="18" fill="#20ee00"/><rect x="618" y="627" width="18" height="18" fill="#20ee00"/><rect x="636" y="627" width="19" height="18" fill="#40f000"/><rect x="655" y="627" width="18" height="18" fill="#40f000"/><rect x="673" y="627" width="18" height="18" fill="#40f000"/><rect x="691" y="627" width="18" height="18" fill="#40f000"/><rect x="709" y="627" width="18" height="18" fill="#40f000"/><rect x="727" y="627" width="18" height="18" fill="#60f200"/><rect x="745" y="627" width="19" height="18" fill="#60f200"/><rect x="764" y="627" width="18" height="18" fill="#60f200"/><rect x="782" y="627" width="18" height="18" fill="#80f500"/><rect x="0" y="645" width="18" height="18" fill="#009fff"/><rect x="18" y="645" width="18" height="18" fill="#009fff"/><rect x="36" y="645" width="19" height="18" fill="#00afff"/><rect x="55" y="645" width="18" height="18" fill="#00afff"/><rect x="73" y="645" width="18" height="18" fill="#00afff"/><rect x="91" y="645" width="18" height="18" fill="#00afff"/><rect x="109" y="645" width="18" height="18" fill="#00afff"/><rect x="127" y="645" width="18" height="18" fill="#00afff"/><rect x="145" y="645" width="19" height="18" fill="#00afff"/><rect x="164" y="645" width="18" height="18" fill="#00afff"/><rect x="182" y="645" width="18" height="18" fill="#00afff"/><rect x="200" y="645" width="18" height="18" fill="#00afff"/><rect x="218" y="645" width="18" height="18" fill="#00bfff"/><rect x="236" y="645" width="19" height="18" fill="#00bfff"/><rect x="255" y="645" width="18" height="18" fill="#00bfff"/><rect x="273" y="645" width="18" height="18" fill="#00cfff"/><rect x="291" y="645" width="18" height="18" fill="#00dfff"/><rect x="309" y="645" width="18" height="18" fill="#00efff"/><rect x="327" y="645" width="18" height="18" fill="#00f6ff"/><rect x="345" y="645" width="19" height="18" fill="#00f5df"/><rect x="364" y="645" width="18" height="18" fill="#00f3bf"/><rect x="382" y="645" width="18" height="18" fill="#00f3bf"/><rect x="400" y="645" width="18" height="18" fill="#00f5df"/><rect x="418" y="645" width="18" height="18" fill="#00f3bf"/><rect x="436" y="645" width="19" height="18" fill="#00f080"/><rect x="455" y="645" width="18" height="18" fill="#00ef60"/><rect x="473" y="645" width="18" height="18" fill="#00ee40"/><rect x="491" y="645" width="18" height="18" fill="#00ee40"/><rect x="509" y="645" width="18" height="18" fill="#00eb00"/><rect x="527" y="645" width="18" height="18" fill="#00eb00"/><rect x="545" y="645" width="19" height="18" fill="#00eb00"/><rect x="564" y="645" width="18" height="18" fill="#00eb00"/><rect x="582" y="645" width="18" height="18" fill="#00eb00"/><rect x="600" y="645" width="18" height="18" fill="#20ee00"/><rect x="618" y="645" width="18" height="18" fill="#40f000"/><rect x="636" y="645" width="19" height="18" fill="#40f000"/><rect x="655" y="645" width="18" height="18" fill="#40f000"/><rect x="673" y="645" width="18" height="18" fill="#40f000"/><rect x="691" y="645" width="18" height="18" fill="#40f000"/><rect x="709" y="645" width="18" height="18" fill="#60f200"/><rect x="727" y="645" width="18" height="18" fill="#60f200"/><rect x="745" y="645" width="19" height="18" fill="#60f200"/><rect x="764" y="645" width="18" height="18" fill="#80f500"/><rect x="782" y="645" width="18" height="18" fill="#80f500"/><rect x="0" y="663" width="18" height="19" fill="#009fff"/><rect x="18" y="663" width="18" height="19" fill="#009fff"/><rect x="36" y="663" width="19" height="19" fill="#00afff"/><rect x="55" y="663" width="18" height="19" fill="#00afff"/><rect x="73" y="663" width="18" height="19" fill="#00afff"/><rect x="91" y="663" width="18" height="19" fill="#00afff"/><rect x="109" y="663" width="18" height="19" fill="#00afff"/><rect x="127" y="663" width="18" height="19" fill="#00afff"/><rect x="145" y="663" width="19" height="19" fill="#00afff"/><rect x="164" y="663" width="18" height="19" fill="#00afff"/><rect x="182" y="663" width="18" height="19" fill="#00afff"/><rect x="200" y="663" width="18" height="19" fill="#00afff"/><rect x="218" y="663" width="18" height="19" fill="#00afff"/><rect x="236" y="663" width="19" height="19" fill="#00bfff"/><rect x="255" y="663" width="18" height="19" fill="#00bfff"/><rect x="273" y="663" width="18" height="19" fill="#00cfff"/><rect x="291" y="663" width="18" height="19" fill="#00dfff"/><rect x="309" y="663" width="18" height="19" fill="#00f6ff"/><rect x="327" y="663" width="18" height="19" fill="#00f6ff"/><rect x="345" y="663" width="19" height="19" fill="#00f5df"/><rect x="364" y="663" width="18" height="19" fill="#00f3bf"/><rect x="382" y="663" width="18" height="19" fill="#00f3bf"/><rect x="400" y="663" width="18" height="19" fill="#00f3bf"/><rect x="418" y="663" width="18" height="19" fill="#00f29f"/><rect x="436" y="663" width="19" height="19" fill="#00f080"/><rect x="455" y="663" width="18" height="19" fill="#00ef60"/><rect x="473" y="663" width="18" height="19" fill="#00ee40"/><rect x="491" y="663" width="18" height="19" fill="#00ee40"/><rect x="509" y="663" width="18" height="19" fill="#00eb00"/><rect x="527" y="663" width="18" height="19" fill="#00eb00"/><rect x="545" y="663" width="19" height="19" fill="#00eb00"/><rect x="564" y="663" width="18" height="19" fill="#00eb00"/><rect x="582" y="663" width="18" height="19" fill="#00eb00"/><rect x="600" y="663" width="18" height="19" fill="#20ee00"/><rect x="618" y="663" width="18" height="19" fill="#40f000"/><rect x="636" y="663" width="19" height="19" fill="#40f000"/><rect x="655" y="663" width="18" height="19" fill="#40f000"/><rect x="673" y="663" width="18" height="19" fill="#40f000"/><rect x="691" y="663" width="18" height="19" fill="#60f200"/><rect x="709" y="663" width="18" height="19" fill="#60f200"/><rect x="727" y="663" width="18" height="19" fill="#60f200"/><rect x="745" y="663" width="19" height="19" fill="#80f500"/><rect x="764" y="663" width="18" height="19" fill="#80f500"/><rect x="782" y="663" width="18" height="19" fill="#80f500"/><rect x="0" y="682" width="18" height="18" fill="#009fff"/><rect x="18" y="682" width="18" height="18" fill="#009fff"/><rect x="36" y="682" width="19" height="18" fill="#009fff"/><rect x="55" y="682" width="18" height="18" fill="#009fff"/><rect x="73" y="682" width="18" height="18" fill="#009fff"/><rect x="91" y="682" width="18" height="18" fill="#009fff"/><rect x="109" y="682" width="18" height="18" fill="#009fff"/><rect x="127" y="682" width="18" height="18" fill="#009fff"/><rect x="145" y="682" width="19" height="18" fill="#009fff"/><rect x="164" y="682" width="18" height="18" fill="#00afff"/><rect x="182" y="682" width="18" height="18" fill="#00afff"/><rect x="200" y="682" width="18" height="18" fill="#009fff"/><rect x="218" y="682" width="18" height="18" fill="#00afff"/><rect x="236" y="682" width="19" height="18" fill="#00bfff"/><rect x="255" y="682" width="18" height="18" fill="#00cfff"/><rect x="273" y="682" width="18" height="18" fill="#00dfff"/><rect x="291" y="682" width="18" height="18" fill="#00efff"/><rect x="309" y="682" width="18" height="18" fill="#00f6ff"/><rect x="327" y="682" width="18" height="18" fill="#00f5df"/><rect x="345" y="682" width="19" height="18" fill="#00f3bf"/><rect x="364" y="682" width="18" height="18" fill="#00f29f"/><rect x="382" y="682" width="18" height="18" fill="#00f29f"/><rect x="400" y="682" width="18" height="18" fill="#00f3bf"/><rect x="418" y="682" width="18" height="18" fill="#00f29f"/><rect x="436" y="682" width="19" height="18" fill="#00ef60"/><rect x="455" y="682" width="18" height="18" fill="#00ef60"/><rect x="473" y="682" width="18" height="18" fill="#00ee40"/><rect x="491" y="682" width="18" height="18" fill="#00ec20"/><rect x="509" y="682" width="18" height="18" fill="#00eb00"/><rect x="527" y="682" width="18" height="18" fill="#00eb00"/><rect x="545" y="682" width="19" height="18" fill="#00eb00"/><rect x="564" y="682" width="18" height="18" fill="#00eb00"/><rect x="582" y="682" width="18" height="18" fill="#20ee00"/><rect x="600" y="682" width="18" height="18" fill="#40f000"/><rect x="618" y="682" width="18" height="18" fill="#40f000"/><rect x="636" y="682" width="19" height="18" fill="#40f000"/><rect x="655" y="682" width="18" height="18" fill="#40f000"/><rect x="673" y="682" width="18" height="18" fill="#60f200"/><rect x="691" y="682" width="18" height="18" fill="#60f200"/><rect x="709" y="682" width="18" height="18" fill="#60f200"/><rect x="727" y="682" width="18" height="18" fill="#80f500"/><rect x="745" y="682" width="19" height="18" fill="#80f500"/><rect x="764" y="682" width="18" height="18" fill="#80f500"/><rect x="782" y="682" width="18" height="18" fill="#80f500"/><rect x="0" y="700" width="18" height="18" fill="#009fff"/><rect x="18" y="700" width="18" height="18" fill="#009fff"/><rect x="36" y="700" width="19" height="18" fill="#009fff"/><rect x="55" y="700" width="18" height="18" fill="#009fff"/><rect x="73" y="700" width="18" height="18" fill="#009fff"/><rect x="91" y="700" width="18" height="18" fill="#009fff"/><rect x="109" y="700" width="18" height="18" fill="#009fff"/><rect x="127" y="700" width="18" height="18" fill="#009fff"/><rect x="145" y="700" width="19" height="18" fill="#009fff"/><rect x="164" y="700" width="18" height="18" fill="#009fff"/><rect x="182" y="700" width="18" height="18" fill="#00afff"/><rect x="200" y="700" width="18" height="18" fill="#009fff"/><rect x="218" y="700" width="18" height="18" fill="#00afff"/><rect x="236" y="700" width="19" height="18" fill="#00bfff"/><rect x="255" y="700" width="18" height="18" fill="#00cfff"/><rect x="273" y="700" width="18" height="18" fill="#00dfff"/><rect x="291" y="700" width="18" height="18" fill="#00f6ff"/><rect x="309" y="700" width="18" height="18" fill="#00f5df"/><rect x="327" y="700" width="18" height="18" fill="#00f3bf"/><rect x="345" y="700" width="19" height="18" fill="#00f3bf"/><rect x="364" y="700" width="18" height="18" fill="#00f29f"/><rect x="382" y="700" width="18" height="18" fill="#00f29f"/><rect x="400" y="700" width="18" height="18" fill="#00f29f"/><rect x="418" y="700" width="18" height="18" fill="#00f29f"/><rect x="436" y="700" width="19" height="18" fill="#00ef60"/><rect x="455" y="700" width="18" height="18" fill="#00ef60"/><rect x="473" y="700" width="18" height="18" fill="#00ee40"/><rect x="491" y="700" width="18" height="18" fill="#00ec20"/><rect x="509" y="700" width="18" height="18" fill="#00eb00"/><rect x="527" y="700" width="18" height="18" fill="#00eb00"/><rect x="545" y="700" width="19" height="18" fill="#00eb00"/><rect x="564" y="700" width="18" height="18" fill="#00eb00"/><rect x="582" y="700" width="18" height="18" fill="#20ee00"/><rect x="600" y="700" width="18" height="18" fill="#40f000"/><rect x="618" y="700" width="18" height="18" fill="#40f000"/><rect x="636" y="700" width="19" height="18" fill="#40f000"/><rect x="655" y="700" width="18" height="18" fill="#60f200"/><rect x="673" y="700" width="18" height="18" fill="#60f200"/><rect x="691" y="700" width="18" height="18" fill="#60f200"/><rect x="709" y="700" width="18" height="18" fill="#80f500"/><rect x="727" y="700" width="18" height="18" fill="#80f500"/><rect x="745" y="700" width="19" height="18" fill="#80f500"/><rect x="764" y="700" width="18" height="18" fill="#80f500"/><rect x="782" y="700" width="18" height="18" fill="#9ff800"/><rect x="0" y="718" width="18" height="18" fill="#009fff"/><rect x="18" y="718" width="18" height="18" fill="#009fff"/><rect x="36" y="718" width="19" height="18" fill="#009fff"/><rect x="55" y="718" width="18" height="18" fill="#009fff"/><rect x="73" y="718" width="18" height="18" fill="#009fff"/><rect x="91" y="718" width="18" height="18" fill="#009fff"/><rect x="109" y="718" width="18" height="18" fill="#009fff"/><rect x="127" y="718" width="18" height="18" fill="#009fff"/><rect x="145" y="718" width="19" height="18" fill="#009fff"/><rect x="164" y="718" width="18" height="18" fill="#00afff"/><rect x="182" y="718" width="18" height="18" fill="#00afff"/><rect x="200" y="718" width="18" height="18" fill="#009fff"/><rect x="218" y="718" width="18" height="18" fill="#00bfff"/><rect x="236" y="718" width="19" height="18" fill="#00cfff"/><rect x="255" y="718" width="18" height="18" fill="#00dfff"/><rect x="273" y="718" width="18" height="18" fill="#00efff"/><rect x="291" y="718" width="18" height="18" fill="#00f6ff"/><rect x="309" y="718" width="18" height="18" fill="#00f5df"/><rect x="327" y="718" width="18" height="18" fill="#00f3bf"/><rect x="345" y="718" width="19" height="18" fill="#00f29f"/><rect x="364" y="718" width="18" height="18" fill="#00f29f"/><rect x="382" y="718" width="18" height="18" fill="#00f29f"/><rect x="400" y="718" width="18" height="18" fill="#00f29f"/><rect x="418" y="718" width="18" height="18" fill="#00f080"/><rect x="436" y="718" width="19" height="18" fill="#00ef60"/><rect x="455" y="718" width="18" height="18" fill="#00ee40"/><rect x="473" y="718" width="18" height="18" fill="#00ee40"/><rect x="491" y="718" width="18" height="18" fill="#00ec20"/><rect x="509" y="718" width="18" height="18" fill="#00eb00"/><rect x="527" y="718" width="18" height="18" fill="#00eb00"/><rect x="545" y="718" width="19" height="18" fill="#00eb00"/><rect x="564" y="718" width="18" height="18" fill="#00eb00"/><rect x="582" y="718" width="18" height="18" fill="#20ee00"/><rect x="600" y="718" width="18" height="18" fill="#40f000"/><rect x="618" y="718" width="18" height="18" fill="#40f000"/><rect x="636" y="718" width="19" height="18" fill="#40f000"/><rect x="655" y="718" width="18" height="18" fill="#60f200"/><rect x="673" y="718" width="18" height="18" fill="#60f200"/><rect x="691" y="718" width="18" height="18" fill="#60f200"/><rect x="709" y="718" width="18" height="18" fill="#80f500"/><rect x="727" y="718" width="18" height="18" fill="#80f500"/><rect x="745" y="718" width="19" height="18" fill="#80f500"/><rect x="764" y="718" width="18" height="18" fill="#9ff800"/><rect x="782" y="718" width="18" height="18" fill="#9ff800"/><rect x="0" y="736" width="18" height="18" fill="#009fff"/><rect x="18" y="736" width="18" height="18" fill="#009fff"/><rect x="36" y="736" width="19" height="18" fill="#009fff"/><rect x="55" y="736" width="18" height="18" fill="#009fff"/><rect x="73" y="736" width="18" height="18" fill="#009fff"/><rect x="91" y="736" width="18" height="18" fill="#009fff"/><rect x="109" y="736" width="18" height="18" fill="#009fff"/><rect x="127" y="736" width="18" height="18" fill="#009fff"/><rect x="145" y="736" width="19" height="18" fill="#009fff"/><rect x="164" y="736" width="18" height="18" fill="#00afff"/><rect x="182" y="736" width="18" height="18" fill="#00afff"/><rect x="200" y="736" width="18" height="18" fill="#00afff"/><rect x="218" y="736" width="18" height="18" fill="#00bfff"/><rect x="236" y="736" width="19" height="18" fill="#00cfff"/><rect x="255" y="736" width="18" height="18" fill="#00dfff"/><rect x="273" y="736" width="18" height="18" fill="#00f6ff"/><rect x="291" y="736" width="18" height="18" fill="#00f5df"/><rect x="309" y="736" width="18" height="18" fill="#00f5df"/><rect x="327" y="736" width="18" height="18" fill="#00f3bf"/><rect x="345" y="736" width="19" height="18" fill="#00f29f"/><rect x="364" y="736" width="18" height="18" fill="#00f29f"/><rect x="382" y="736" width="18" height="18" fill="#00f080"/><rect x="400" y="736" width="18" height="18" fill="#00f29f"/><rect x="418" y="736" width="18" height="18" fill="#00f080"/><rect x="436" y="736" width="19" height="18" fill="#00ef60"/><rect x="455" y="736" width="18" height="18" fill="#00ee40"/><rect x="473" y="736" width="18" height="18" fill="#00ee40"/><rect x="491" y="736" width="18" height="18" fill="#00ec20"/><rect x="509" y="736" width="18" height="18" fill="#00eb00"/><rect x="527" y="736" width="18" height="18" fill="#00eb00"/><rect x="545" y="736" width="19" height="18" fill="#00eb00"/><rect x="564" y="736" width="18" height="18" fill="#00eb00"/><rect x="582" y="736" width="18" height="18" fill="#20ee00"/><rect x="600" y="736" width="18" height="18" fill="#40f000"/><rect x="618" y="736" width="18" height="18" fill="#40f000"/><rect x="636" y="736" width="19" height="18" fill="#60f200"/><rect x="655" y="736" width="18" height="18" fill="#60f200"/><rect x="673" y="736" width="18" height="18" fill="#60f200"/><rect x="691" y="736" width="18" height="18" fill="#80f500"/><rect x="709" y="736" width="18" height="18" fill="#80f500"/><rect x="727" y="736" width="18" height="18" fill="#80f500"/><rect x="745" y="736" width="19" height="18" fill="#9ff800"/><rect x="764" y="736" width="18" height="18" fill="#9ff800"/><rect x="782" y="736" width="18" height="18" fill="#bffa00"/><rect x="0" y="754" width="18" height="18" fill="#009fff"/><rect x="18" y="754" width="18" height="18" fill="#009fff"/><rect x="36" y="754" width="19" height="18" fill="#009fff"/><rect x="55" y="754" width="18" height="18" fill="#009fff"/><rect x="73" y="754" width="18" height="18" fill="#009fff"/><rect x="91" y="754" width="18" height="18" fill="#009fff"/><rect x="109" y="754" width="18" height="18" fill="#009fff"/><rect x="127" y="754" width="18" height="18" fill="#009fff"/><rect x="145" y="754" width="19" height="18" fill="#00afff"/><rect x="164" y="754" width="18" height="18" fill="#00afff"/><rect x="182" y="754" width="18" height="18" fill="#00afff"/><rect x="200" y="754" width="18" height="18" fill="#00afff"/><rect x="218" y="754" width="18" height="18" fill="#00cfff"/><rect x="236" y="754" width="19" height="18" fill="#00dfff"/><rect x="255" y="754" width="18" height="18" fill="#00efff"/><rect x="273" y="754" width="18" height="18" fill="#00f6ff"/><rect x="291" y="754" width="18" height="18" fill="#00f5df"/><rect x="309" y="754" width="18" height="18" fill="#00f3bf"/><rect x="327" y="754" width="18" height="18" fill="#00f29f"/><rect x="345" y="754" width="19" height="18" fill="#00f29f"/><rect x="364" y="754" width="18" height="18" fill="#00f080"/><rect x="382" y="754" width="18" height="18" fill="#00f080"/><rect x="400" y="754" width="18" height="18" fill="#00f29f"/><rect x="418" y="754" width="18" height="18" fill="#00f080"/><rect x="436" y="754" width="19" height="18" fill="#00ef60"/><rect x="455" y="754" width="18" height="18" fill="#00ee40"/><rect x="473" y="754" width="18" height="18" fill="#00ec20"/><rect x="491" y="754" width="18" height="18" fill="#00ec20"/><rect x="509" y="754" width="18" height="18" fill="#00eb00"/><rect x="527" y="754" width="18" height="18" fill="#00eb00"/><rect x="545" y="754" width="19" height="18" fill="#00eb00"/><rect x="564" y="754" width="18" height="18" fill="#00eb00"/><rect x="582" y="754" width="18" height="18" fill="#20ee00"/><rect x="600" y="754" width="18" height="18" fill="#40f000"/><rect x="618" y="754" width="18" height="18" fill="#60f200"/><rect x="636" y="754" width="19" height="18" fill="#60f200"/><rect x="655" y="754" width="18" height="18" fill="#60f200"/><rect x="673" y="754" width="18" height="18" fill="#80f500"/><rect x="691" y="754" width="18" height="18" fill="#80f500"/><rect x="709" y="754" width="18" height="18" fill="#80f500"/><rect x="727" y="754" width="18" height="18" fill="#9ff800"/><rect x="745" y="754" width="19" height="18" fill="#9ff800"/><rect x="764" y="754" width="18" height="18" fill="#bffa00"/><rect x="782" y="754" width="18" height="18" fill="#bffa00"/></g><g class="g" clip-path="url(#map)" font-size="12.5"><text x="771" y="32" textLength="21" lengthAdjust="spacingAndGlyphs">31S</text><text x="771" y="105" textLength="21" lengthAdjust="spacingAndGlyphs">32S</text><text x="771" y="177" textLength="21" lengthAdjust="spacingAndGlyphs">33S</text><text x="771" y="250" textLength="21" lengthAdjust="spacingAndGlyphs">34S</text><text x="771" y="323" textLength="21" lengthAdjust="spacingAndGlyphs">35S</text><text x="771" y="396" textLength="21" lengthAdjust="spacingAndGlyphs">36S</text><text x="771" y="468" textLength="21" lengthAdjust="spacingAndGlyphs">37S</text><text x="771" y="541" textLength="21" lengthAdjust="spacingAndGlyphs">38S</text><text x="771" y="614" textLength="21" lengthAdjust="spacingAndGlyphs">39S</text><text x="771" y="686" textLength="21" lengthAdjust="spacingAndGlyphs">40S</text><text x="771" y="759" textLength="21" lengthAdjust="spacingAndGlyphs">41S</text><text transform="translate(13,744) rotate(90)" textLength="20" lengthAdjust="spacingAndGlyphs">61W</text><text transform="translate(85,744) rotate(90)" textLength="20" lengthAdjust="spacingAndGlyphs">60W</text><text transform="translate(158,744) rotate(90)" textLength="20" lengthAdjust="spacingAndGlyphs">59W</text><text transform="translate(231,744) rotate(90)" textLength="20" lengthAdjust="spacingAndGlyphs">58W</text><text transform="translate(303,744) rotate(90)" textLength="20" lengthAdjust="spacingAndGlyphs">57W</text><text transform="translate(376,744) rotate(90)" textLength="20" lengthAdjust="spacingAndGlyphs">56W</text><text transform="translate(449,744) rotate(90)" textLength="20" lengthAdjust="spacingAndGlyphs">55W</text><text transform="translate(522,744) rotate(90)" textLength="20" lengthAdjust="spacingAndGlyphs">54W</text><text transform="translate(594,744) rotate(90)" textLength="20" lengthAdjust="spacingAndGlyphs">53W</text><text transform="translate(667,744) rotate(90)" textLength="20" lengthAdjust="spacingAndGlyphs">52W</text><text transform="translate(740,744) rotate(90)" textLength="20" lengthAdjust="spacingAndGlyphs">51W</text></g><path clip-path="url(#map)" d="M718.5 36.5L725.0 36.5M722.3 37.8L725.0 36.5L722.3 35.2M772.5 36.5L780.8 36.1M777.3 37.9L780.8 36.1L777.2 34.6M790.5 36.5L799.7 35.8M795.9 37.9L799.7 35.8L795.6 34.3M700.5 54.5L707.9 54.5M704.8 56.0L707.9 54.5L704.8 53.0M718.5 54.5L725.9 54.3M722.8 55.9L725.9 54.3L722.7 52.9M754.5 54.5L762.8 53.9M759.4 55.8L762.8 53.9L759.1 52.5M772.5 54.5L780.8 53.8M777.4 55.7L780.8 53.8L777.1 52.4M790.5 54.5L799.6 53.7M795.9 55.8L799.6 53.7L795.6 52.2M681.5 72.5L688.9 72.5M685.8 74.0L688.9 72.5L685.8 71.0M700.5 72.5L708.8 72.2M705.3 74.0L708.8 72.2L705.2 70.7M718.5 72.5L727.7 71.8M723.9 73.9L727.7 71.8L723.6 70.3M736.5 72.5L745.7 71.9M741.9 74.0L745.7 71.9L741.6 70.3M754.5 72.5L764.5 72.0M760.4 74.2L764.5 72.0L760.2 70.2M772.5 72.5L782.5 71.6M778.4 74.0L782.5 71.6L778.1 70.0M790.5 72.5L800.5 71.6M796.4 74.0L800.5 71.6L796.1 70.0M663.5 90.5L670.0 90.5M667.3 91.8L670.0 90.5L667.3 89.2M681.5 90.5L689.8 89.9M686.4 91.8L689.8 89.9L686.1 88.5M700.5 90.5L709.6 89.2M706.0 91.6L709.6 89.2L705.5 88.0M718.5 90.5L728.5 89.4M724.4 91.9L728.5 89.4L724.0 87.9M736.5 90.5L746.5 90.1M742.3 92.3L746.5 90.1L742.2 88.3M754.5 90.5L765.4 89.4M761.0 92.0L765.4 89.4L760.5 87.7M772.5 90.5L783.3 89.1M779.0 91.9L783.3 89.1L778.4 87.6M790.5 90.5L801.4 89.9M796.9 92.3L801.4 89.9L796.6 88.0M681.5 108.5L691.2 106.0M687.6 109.0L691.2 106.0L686.6 105.1M700.5 108.5L711.3 106.8M707.0 109.7L711.3 106.8L706.4 105.4M718.5 108.5L729.2 106.4M725.1 109.4L729.2 106.4L724.2 105.1M736.5 108.5L748.1 106.2M743.6 109.5L748.1 106.2L742.7 104.9M754.5 108.5L765.9 105.4M761.7 109.0L765.9 105.4L760.4 104.4M772.5 108.5L784.1 106.5M779.6 109.6L784.1 106.5L778.8 105.0M790.5 108.5L802.1 106.6M797.6 109.7L802.1 106.6L796.8 105.1M663.5 127.5L673.4 122.8M670.1 126.8L673.4 122.8L668.2 122.8M681.5 127.5L692.3 122.7M688.6 126.9L692.3 122.7L686.7 122.6M700.5 127.5L712.5 123.5M708.2 127.6L712.5 123.5L706.6 122.8M718.5 127.5L730.3 122.9M726.2 127.2L730.3 122.9L724.4 122.5M736.5 127.5L748.7 121.6M744.7 126.6L748.7 121.6L742.3 121.7M754.5 127.5L766.8 121.8M762.7 126.7L766.8 121.8L760.4 121.8M772.5 127.5L785.3 122.9M780.7 127.4L785.3 122.9L778.9 122.3M790.5 127.5L803.6 121.5M799.2 126.6L803.6 121.5L796.8 121.4M645.5 145.5L654.8 139.7M652.0 144.0L654.8 139.7L649.7 140.3M663.5 145.5L674.5 139.2M671.1 144.0L674.5 139.2L668.5 139.7M681.5 145.5L693.4 139.1M689.6 144.2L693.4 139.1L687.1 139.5M700.5 145.5L713.4 139.0M709.2 144.3L713.4 139.0L706.6 139.2M718.5 145.5L731.6 137.7M727.6 143.6L731.6 137.7L724.5 138.4M736.5 145.5L749.6 137.6M745.6 143.6L749.6 137.6L742.5 138.4M754.5 145.5L767.9 138.1M763.7 143.9L767.9 138.1L760.7 138.6M772.5 145.5L786.4 137.7M782.0 143.8L786.4 137.7L779.0 138.3M790.5 145.5L803.9 136.8M799.9 143.2L803.9 136.8L796.5 137.9M645.5 163.5L654.8 156.2M652.3 161.1L654.8 156.2L649.4 157.5M663.5 163.5L673.5 155.7M670.8 161.0L673.5 155.7L667.7 157.0M681.5 163.5L693.3 155.2M689.9 161.1L693.3 155.2L686.6 156.4M700.5 163.5L713.1 154.8M709.5 161.0L713.1 154.8L706.0 156.0M718.5 163.5L731.2 153.9M727.7 160.5L731.2 153.9L723.9 155.4M736.5 163.5L748.7 153.2M745.6 160.0L748.7 153.2L741.5 155.2M754.5 163.5L767.3 154.0M763.7 160.6L767.3 154.0L760.0 155.5M772.5 163.5L786.6 154.7M782.3 161.2L786.6 154.7L778.8 155.6M790.5 163.5L805.1 154.4M800.7 161.2L805.1 154.4L797.1 155.4M627.5 181.5L636.0 173.3M634.0 178.5L636.0 173.3L630.7 175.1M645.5 181.5L654.9 173.0M652.6 178.5L654.9 173.0L649.2 174.8M663.5 181.5L673.9 172.8M671.2 178.6L673.9 172.8L667.8 174.5M681.5 181.5L692.6 172.3M689.7 178.4L692.6 172.3L686.0 174.0M700.5 181.5L711.8 171.2M709.0 177.8L711.8 171.2L704.9 173.3M718.5 181.5L730.0 171.4M727.1 178.0L730.0 171.4L723.1 173.4M736.5 181.5L748.2 170.6M745.4 177.6L748.2 170.6L741.0 172.9M754.5 181.5L766.6 171.1M763.5 178.0L766.6 171.1L759.4 173.1M772.5 181.5L785.9 171.7M782.1 178.6L785.9 171.7L778.3 173.2M790.5 181.5L804.4 172.4M800.3 179.1L804.4 172.4L796.7 173.5M609.5 199.5L616.2 192.0M614.8 196.5L616.2 192.0L611.8 193.9M627.5 199.5L635.5 190.9M633.8 196.1L635.5 190.9L630.4 192.9M645.5 199.5L654.4 190.5M652.4 196.1L654.4 190.5L648.8 192.5M663.5 199.5L673.4 190.3M671.0 196.2L673.4 190.3L667.4 192.2M681.5 199.5L692.5 188.8M689.9 195.6L692.5 188.8L685.7 191.2M700.5 199.5L711.1 188.5M708.8 195.3L711.1 188.5L704.4 191.1M718.5 199.5L729.8 188.3M727.2 195.3L729.8 188.3L722.8 190.8M736.5 199.5L747.7 188.2M745.2 195.2L747.7 188.2L740.7 190.8M754.5 199.5L766.5 188.0M763.7 195.3L766.5 188.0L759.1 190.5M772.5 199.5L785.2 188.8M781.9 195.9L785.2 188.8L777.7 190.8M790.5 199.5L804.3 189.2M800.5 196.3L804.3 189.2L796.4 190.8M590.5 217.5L597.2 208.8M596.0 213.9L597.2 208.8L592.6 211.2M609.5 217.5L617.6 206.6M616.3 212.9L617.6 206.6L612.0 209.7M627.5 217.5L635.1 206.3M634.1 212.6L635.1 206.3L629.6 209.5M645.5 217.5L654.4 206.2M652.9 212.8L654.4 206.2L648.4 209.2M663.5 217.5L674.1 206.5M671.8 213.3L674.1 206.5L667.4 209.1M681.5 217.5L692.8 206.3M690.2 213.3L692.8 206.3L685.8 208.8M700.5 217.5L711.7 206.1M709.2 213.2L711.7 206.1L704.6 208.7M718.5 217.5L729.7 205.2M727.3 212.7L729.7 205.2L722.5 208.2M736.5 217.5L747.2 204.8M745.2 212.3L747.2 204.8L740.1 208.1M754.5 217.5L766.0 204.6M763.6 212.4L766.0 204.6L758.5 207.8M772.5 217.5L784.9 205.5M782.0 213.1L784.9 205.5L777.2 208.1M790.5 217.5L803.6 206.3M800.2 213.6L803.6 206.3L795.8 208.4M572.5 236.5L579.0 226.7M578.2 232.1L579.0 226.7L574.3 229.6M590.5 236.5L598.8 223.7M597.8 230.8L598.8 223.7L592.7 227.5M609.5 236.5L618.4 222.5M617.4 230.2L618.4 222.5L611.8 226.7M627.5 236.5L637.3 222.3M636.0 230.3L637.3 222.3L630.3 226.4M645.5 236.5L656.0 222.8M654.2 230.7L656.0 222.8L648.8 226.6M663.5 236.5L675.0 223.6M672.6 231.4L675.0 223.6L667.5 226.8M681.5 236.5L693.4 224.0M690.8 231.7L693.4 224.0L685.9 227.0M700.5 236.5L712.7 223.4M710.1 231.4L712.7 223.4L704.9 226.5M718.5 236.5L730.0 222.8M727.8 230.9L730.0 222.8L722.4 226.3M736.5 236.5L747.6 222.5M745.7 230.7L747.6 222.5L740.1 226.2M754.5 236.5L766.1 222.5M763.9 230.8L766.1 222.5L758.4 226.2M772.5 236.5L784.8 223.2M782.2 231.3L784.8 223.2L776.9 226.4M790.5 236.5L803.5 223.9M800.5 231.9L803.5 223.9L795.5 226.7M554.5 254.5L559.6 244.9M559.4 250.0L559.6 244.9L555.5 247.9M572.5 254.5L580.5 240.7M579.9 248.2L580.5 240.7L574.4 245.0M590.5 254.5L599.0 240.2M598.2 248.0L599.0 240.2L592.5 244.6M609.5 254.5L618.1 239.6M617.4 247.6L618.1 239.6L611.5 244.2M627.5 254.5L636.6 239.8M635.6 247.9L636.6 239.8L629.8 244.3M645.5 254.5L655.7 240.6M654.1 248.6L655.7 240.6L648.6 244.5M663.5 254.5L675.0 240.8M672.8 248.9L675.0 240.8L667.4 244.3M681.5 254.5L693.3 241.1M691.0 249.2L693.3 241.1L685.6 244.4M700.5 254.5L712.0 240.8M709.8 248.9L712.0 240.8L704.4 244.4M718.5 254.5L729.3 239.9M727.6 248.3L729.3 239.9L721.8 244.0M736.5 254.5L746.9 239.6M745.4 248.0L746.9 239.6L739.5 243.9M754.5 254.5L765.3 239.9M763.6 248.2L765.3 239.9L757.8 244.0M772.5 254.5L784.3 240.4M782.1 248.8L784.3 240.4L776.5 244.1M790.5 254.5L803.1 241.1M800.4 249.3L803.1 241.1L795.1 244.3M209.5 272.5L203.2 263.6M207.7 266.1L203.2 263.6L204.1 268.6M554.5 272.5L561.1 258.7M561.0 265.9L561.1 258.7L555.5 263.3M572.5 272.5L580.0 257.7M579.8 265.5L580.0 257.7L573.9 262.5M590.5 272.5L598.8 258.1M598.1 265.9L598.8 258.1L592.4 262.6M609.5 272.5L618.3 257.6M617.5 265.7L618.3 257.6L611.6 262.2M627.5 272.5L636.6 257.9M635.7 265.9L636.6 257.9L629.8 262.3M645.5 272.5L655.5 258.4M654.0 266.4L655.5 258.4L648.4 262.4M663.5 272.5L674.6 258.4M672.7 266.6L674.6 258.4L667.1 262.2M681.5 272.5L692.8 258.6M690.8 266.8L692.8 258.6L685.3 262.3M700.5 272.5L711.6 258.5M709.7 266.6L711.6 258.5L704.1 262.2M718.5 272.5L729.3 257.9M727.6 266.3L729.3 257.9L721.8 262.0M736.5 272.5L747.1 257.7M745.5 266.1L747.1 257.7L739.6 261.9M754.5 272.5L765.4 257.7M763.7 266.1L765.4 257.7L757.8 261.8M772.5 272.5L783.9 258.1M781.9 266.5L783.9 258.1L776.2 261.9M790.5 272.5L802.5 258.6M800.2 266.9L802.5 258.6L794.6 262.1M209.5 290.5L202.2 282.4M206.9 284.4L202.2 282.4L203.7 287.3M227.5 290.5L220.8 280.8M225.6 283.6L220.8 280.8L221.7 286.3M245.5 290.5L239.5 280.3M244.1 283.5L239.5 280.3L240.0 285.9M263.5 290.5L257.6 280.3M262.2 283.5L257.6 280.3L258.1 285.8M281.5 290.5L275.6 280.3M280.1 283.5L275.6 280.3L276.1 285.8M536.5 290.5L542.8 276.6M542.9 283.8L542.8 276.6L537.4 281.2M554.5 290.5L561.2 276.0M561.2 283.5L561.2 276.0L555.5 280.9M572.5 290.5L579.6 275.5M579.6 283.3L579.6 275.5L573.6 280.5M590.5 290.5L598.4 275.9M597.9 283.7L598.4 275.9L592.1 280.5M609.5 290.5L618.3 275.7M617.5 283.8L618.3 275.7L611.6 280.2M627.5 290.5L636.8 276.0M635.7 284.0L636.8 276.0L629.9 280.3M645.5 290.5L655.7 275.8M654.3 284.1L655.7 275.8L648.4 280.0M663.5 290.5L674.1 276.1M672.5 284.3L674.1 276.1L666.7 280.1M681.5 290.5L692.3 276.2M690.5 284.4L692.3 276.2L684.9 280.2M700.5 290.5L711.2 275.8M709.6 284.2L711.2 275.8L703.7 280.0M718.5 290.5L728.7 275.5M727.3 283.9L728.7 275.5L721.3 279.8M736.5 290.5L746.5 275.1M745.3 283.6L746.5 275.1L739.2 279.7M754.5 290.5L764.8 275.2M763.4 283.8L764.8 275.2L757.4 279.7M772.5 290.5L783.4 275.6M781.7 284.1L783.4 275.6L775.8 279.8M790.5 290.5L802.1 275.9M800.0 284.4L802.1 275.9L794.2 279.8M227.5 308.5L222.9 300.6M226.4 303.0L222.9 300.6L223.3 304.9M245.5 308.5L239.6 298.3M244.1 301.5L239.6 298.3L240.1 303.8M263.5 308.5L257.2 297.5M262.1 300.9L257.2 297.5L257.7 303.4M281.5 308.5L275.0 296.6M280.2 300.4L275.0 296.6L275.4 303.0M300.5 308.5L294.6 296.3M299.5 300.3L294.6 296.3L294.7 302.7M318.5 308.5L313.8 297.7M317.9 301.4L313.8 297.7L313.6 303.2M500.5 308.5L504.7 295.6M505.4 301.9L504.7 295.6L500.3 300.3M518.5 308.5L523.1 294.8M523.9 301.6L523.1 294.8L518.4 299.7M536.5 308.5L542.4 293.7M542.8 301.2L542.4 293.7L536.9 298.8M554.5 308.5L561.4 293.4M561.5 301.2L561.4 293.4L555.5 298.5M572.5 308.5L579.6 293.5M579.5 301.3L579.6 293.5L573.6 298.5M590.5 308.5L598.4 293.2M598.1 301.3L598.4 293.2L592.0 298.1M609.5 308.5L618.0 293.5M617.4 301.6L618.0 293.5L611.4 298.2M627.5 308.5L636.5 293.8M635.6 301.8L636.5 293.8L629.7 298.3M645.5 308.5L655.1 293.4M654.0 301.8L655.1 293.4L648.0 297.9M663.5 308.5L673.5 293.6M672.2 302.0L673.5 293.6L666.3 298.0M681.5 308.5L691.9 293.6M690.4 302.0L691.9 293.6L684.5 297.9M700.5 308.5L710.7 293.5M709.3 301.9L710.7 293.5L703.4 297.9M718.5 308.5L728.4 293.0M727.3 301.6L728.4 293.0L721.1 297.6M736.5 308.5L746.3 292.9M745.2 301.5L746.3 292.9L739.0 297.6M754.5 308.5L764.4 293.0M763.3 301.6L764.4 293.0L757.1 297.6M772.5 308.5L783.0 293.1M781.6 301.7L783.0 293.1L775.4 297.6M790.5 308.5L801.4 293.4M799.8 302.0L801.4 293.4L793.7 297.6M263.5 327.5L258.5 318.8M262.3 321.5L258.5 318.8L258.9 323.5M281.5 327.5L276.1 317.0M280.5 320.4L276.1 317.0L276.3 322.5M300.5 327.5L295.5 316.8M299.8 320.4L295.5 316.8L295.5 322.4M318.5 327.5L313.9 316.6M318.0 320.3L313.9 316.6L313.7 322.2M336.5 327.5L332.5 316.4M336.4 320.3L332.5 316.4L332.0 321.9M354.5 327.5L351.9 316.0M355.3 320.4L351.9 316.0L350.7 321.4M372.5 327.5L371.2 315.8M374.1 320.5L371.2 315.8L369.5 321.0M390.5 327.5L389.6 314.9M392.5 320.1L389.6 314.9L387.4 320.4M409.5 327.5L409.0 315.7M411.6 320.6L409.0 315.7L406.9 320.8M427.5 327.5L427.4 315.7M429.8 320.7L427.4 315.7L425.1 320.7M445.5 327.5L446.4 314.9M448.5 320.4L446.4 314.9L443.5 320.1M463.5 327.5L465.3 315.0M467.0 320.7L465.3 315.0L462.1 319.9M481.5 327.5L485.0 313.5M486.3 320.1L485.0 313.5L480.7 318.8M500.5 327.5L505.1 312.9M506.1 320.1L505.1 312.9L500.3 318.2M518.5 327.5L523.4 312.3M524.3 319.8L523.4 312.3L518.3 317.8M536.5 327.5L541.8 311.8M542.7 319.5L541.8 311.8L536.4 317.4M554.5 327.5L560.7 312.1M561.1 319.9L560.7 312.1L555.0 317.4M572.5 327.5L579.5 311.7M579.7 319.9L579.5 311.7L573.4 317.1M590.5 327.5L598.1 312.0M597.9 320.1L598.1 312.0L591.8 317.1M609.5 327.5L617.6 312.3M617.2 320.4L617.6 312.3L611.2 317.2M627.5 327.5L636.3 311.9M635.6 320.3L636.3 311.9L629.4 316.8M645.5 327.5L654.4 312.0M653.7 320.3L654.4 312.0L647.5 316.8M663.5 327.5L672.8 311.9M671.9 320.4L672.8 311.9L665.8 316.7M681.5 327.5L691.3 312.2M690.1 320.7L691.3 312.2L684.1 316.8M700.5 327.5L710.6 312.1M709.4 320.7L710.6 312.1L703.2 316.7M718.5 327.5L728.4 312.0M727.3 320.6L728.4 312.0L721.1 316.6M736.5 327.5L746.5 311.7M745.3 320.4L746.5 311.7L739.1 316.5M754.5 327.5L764.5 311.8M763.4 320.4L764.5 311.8L757.1 316.5M772.5 327.5L782.5 311.8M781.4 320.5L782.5 311.8L775.1 316.5M790.5 327.5L800.7 311.9M799.4 320.5L800.7 311.9L793.2 316.5M300.5 345.5L295.5 333.9M299.9 337.8L295.5 333.9L295.3 339.8M318.5 345.5L313.4 332.9M318.1 337.3L313.4 332.9L313.1 339.3M336.5 345.5L331.9 332.8M336.4 337.3L331.9 332.8L331.3 339.1M354.5 345.5L351.8 332.2M355.6 337.3L351.8 332.2L350.3 338.4M372.5 345.5L371.1 331.1M374.6 337.0L371.1 331.1L368.8 337.5M390.5 345.5L389.2 330.3M392.8 336.5L389.2 330.3L386.7 337.0M409.5 345.5L409.0 330.2M412.2 336.6L409.0 330.2L406.2 336.8M427.5 345.5L427.6 330.2M430.6 336.7L427.6 330.2L424.5 336.7M445.5 345.5L447.3 330.3M449.5 337.1L447.3 330.3L443.5 336.4M463.5 345.5L465.6 330.3M467.7 337.2L465.6 330.3L461.7 336.4M481.5 345.5L484.8 329.9M486.5 337.2L484.8 329.9L480.3 335.9M500.5 345.5L505.1 330.2M506.2 337.6L505.1 330.2L500.1 335.8M518.5 345.5L523.6 329.7M524.6 337.4L523.6 329.7L518.3 335.4M536.5 345.5L542.0 329.1M542.9 337.2L542.0 329.1L536.4 335.0M554.5 345.5L560.5 329.3M561.2 337.4L560.5 329.3L554.7 335.0M572.5 345.5L579.1 329.6M579.5 337.7L579.1 329.6L573.1 335.0M590.5 345.5L597.8 329.9M597.8 338.0L597.8 329.9L591.6 335.1M609.5 345.5L617.7 329.6M617.4 338.0L617.7 329.6L611.0 334.7M627.5 345.5L635.9 329.7M635.5 338.1L635.9 329.7L629.2 334.8M645.5 345.5L654.1 329.5M653.6 338.0L654.1 329.5L647.2 334.6M663.5 345.5L672.3 329.4M671.8 338.0L672.3 329.4L665.4 334.5M681.5 345.5L690.8 329.6M690.0 338.3L690.8 329.6L683.7 334.5M700.5 345.5L710.4 329.7M709.3 338.4L710.4 329.7L703.1 334.5M718.5 345.5L728.5 329.8M727.4 338.5L728.5 329.8L721.1 334.5M736.5 345.5L746.4 329.7M745.3 338.4L746.4 329.7L739.1 334.5M754.5 345.5L764.1 329.5M763.2 338.2L764.1 329.5L756.8 334.4M772.5 345.5L782.1 329.2M781.2 338.0L782.1 329.2L774.7 334.2M790.5 345.5L800.9 328.0M799.9 337.5L800.9 328.0L793.0 333.4M300.5 363.5L295.8 350.8M300.3 355.3L295.8 350.8L295.3 357.1M318.5 363.5L313.6 349.9M318.4 354.7L313.6 349.9L313.0 356.7M336.5 363.5L332.6 348.7M337.2 354.2L332.6 348.7L331.3 355.8M354.5 363.5L352.0 348.4M356.0 354.3L352.0 348.4L350.0 355.3M372.5 363.5L370.6 347.7M374.6 354.0L370.6 347.7L368.3 354.8M390.5 363.5L389.3 347.6M393.0 354.1L389.3 347.6L386.7 354.6M409.5 363.5L409.0 347.6M412.4 354.2L409.0 347.6L406.0 354.5M427.5 363.5L428.8 347.6M431.4 354.6L428.8 347.6L425.1 354.1M445.5 363.5L447.7 347.7M449.9 354.9L447.7 347.7L443.6 354.0M463.5 363.5L465.8 347.1M468.1 354.5L465.8 347.1L461.5 353.6M481.5 363.5L484.4 347.2M486.4 354.7L484.4 347.2L479.9 353.5M500.5 363.5L504.8 346.8M506.3 354.8L504.8 346.8L499.6 353.1M518.5 363.5L523.5 347.0M524.7 355.0L523.5 347.0L518.1 353.0M536.5 363.5L542.0 347.1M542.9 355.2L542.0 347.1L536.4 353.0M554.5 363.5L560.3 347.3M561.1 355.3L560.3 347.3L554.6 353.0M572.5 363.5L578.9 346.8M579.5 355.2L578.9 346.8L572.9 352.6M590.5 363.5L597.6 347.1M597.9 355.5L597.6 347.1L591.3 352.7M609.5 363.5L617.5 347.5M617.3 355.9L617.5 347.5L610.9 352.7M627.5 363.5L636.0 347.5M635.6 356.0L636.0 347.5L629.2 352.6M645.5 363.5L654.0 347.5M653.6 356.0L654.0 347.5L647.2 352.6M663.5 363.5L672.2 347.3M671.7 355.9L672.2 347.3L665.3 352.5M681.5 363.5L690.6 347.2M690.0 356.0L690.6 347.2L683.5 352.4M700.5 363.5L710.1 347.5M709.2 356.2L710.1 347.5L702.8 352.4M718.5 363.5L728.4 347.4M727.4 356.2L728.4 347.4L721.0 352.3M736.5 363.5L746.3 347.3M745.3 356.2L746.3 347.3L738.9 352.3M754.5 363.5L764.0 347.2M763.2 356.0L764.0 347.2L756.7 352.2M772.5 363.5L782.0 347.1M781.2 356.0L782.0 347.1L774.7 352.2M790.5 363.5L800.7 345.9M799.9 355.5L800.7 345.9L792.9 351.4M281.5 381.5L278.2 370.2M281.8 374.3L278.2 370.2L277.3 375.7M300.5 381.5L296.9 368.4M301.0 373.3L296.9 368.4L295.8 374.7M318.5 381.5L314.9 367.5M319.2 372.8L314.9 367.5L313.7 374.2M336.5 381.5L333.7 365.8M338.0 371.9L333.7 365.8L331.8 373.1M354.5 381.5L352.0 365.7M356.2 372.0L352.0 365.7L349.9 373.0M372.5 381.5L370.2 365.7M374.3 372.0L370.2 365.7L368.1 372.9M390.5 381.5L389.2 364.9M393.1 371.7L389.2 364.9L386.5 372.3M409.5 381.5L409.4 364.9M412.7 371.9L409.4 364.9L406.1 372.0M427.5 381.5L428.9 365.0M431.6 372.3L428.9 365.0L425.0 371.7M445.5 381.5L447.7 364.4M450.2 372.1L447.7 364.4L443.4 371.2M463.5 381.5L465.9 364.4M468.2 372.2L465.9 364.4L461.5 371.2M481.5 381.5L484.5 364.5M486.6 372.3L484.5 364.5L479.8 371.2M500.5 381.5L504.4 364.7M506.1 372.6L504.4 364.7L499.4 371.1M518.5 381.5L523.5 364.3M524.8 372.6L523.5 364.3L518.0 370.6M536.5 381.5L542.3 364.6M543.2 372.9L542.3 364.6L536.5 370.6M554.5 381.5L560.7 364.4M561.4 372.9L560.7 364.4L554.6 370.5M572.5 381.5L578.8 364.5M579.5 373.0L578.8 364.5L572.7 370.5M590.5 381.5L597.3 364.7M597.7 373.2L597.3 364.7L591.1 370.5M609.5 381.5L617.3 365.1M617.2 373.6L617.3 365.1L610.7 370.5M627.5 381.5L635.9 365.4M635.5 373.9L635.9 365.4L629.1 370.6M645.5 381.5L654.1 365.2M653.7 373.9L654.1 365.2L647.2 370.5M663.5 381.5L672.2 365.3M671.7 373.9L672.2 365.3L665.3 370.5M681.5 381.5L690.5 365.2M689.9 373.9L690.5 365.2L683.4 370.3M700.5 381.5L709.8 365.3M709.1 374.1L709.8 365.3L702.6 370.4M718.5 381.5L728.1 365.2M727.2 374.0L728.1 365.2L720.8 370.2M736.5 381.5L746.1 365.2M745.2 374.1L746.1 365.2L738.8 370.2M754.5 381.5L764.0 365.2M763.2 374.0L764.0 365.2L756.7 370.2M772.5 381.5L782.0 365.2M781.2 374.0L782.0 365.2L774.7 370.2M790.5 381.5L800.1 365.2M799.2 374.0L800.1 365.2L792.7 370.2M281.5 399.5L278.5 388.1M282.0 392.4L278.5 388.1L277.5 393.6M300.5 399.5L297.0 386.4M301.1 391.3L297.0 386.4L295.9 392.7M318.5 399.5L315.2 385.5M319.4 390.8L315.2 385.5L313.8 392.1M336.5 399.5L333.7 383.8M338.0 389.9L333.7 383.8L331.8 391.0M354.5 399.5L351.9 383.1M356.3 389.6L351.9 383.1L349.8 390.6M372.5 399.5L370.3 383.0M374.5 389.6L370.3 383.0L368.0 390.5M390.5 399.5L389.4 382.9M393.2 389.8L389.4 382.9L386.6 390.2M409.5 399.5L409.6 382.9M412.9 390.0L409.6 382.9L406.3 389.9M427.5 399.5L428.8 382.3M431.6 389.9L428.8 382.3L424.8 389.4M445.5 399.5L447.5 382.4M450.1 390.1L447.5 382.4L443.3 389.3M463.5 399.5L466.0 382.4M468.3 390.2L466.0 382.4L461.5 389.2M481.5 399.5L484.7 381.9M486.8 390.0L484.7 381.9L479.8 388.8M500.5 399.5L504.4 382.0M506.2 390.2L504.4 382.0L499.3 388.7M518.5 399.5L523.4 382.0M524.8 390.4L523.4 382.0L517.8 388.5M536.5 399.5L542.6 382.1M543.5 390.7L542.6 382.1L536.6 388.3M554.5 399.5L560.8 382.2M561.5 390.8L560.8 382.2L554.7 388.3M572.5 399.5L578.8 382.2M579.5 390.8L578.8 382.2L572.7 388.3M590.5 399.5L597.0 382.5M597.6 391.1L597.0 382.5L590.9 388.5M609.5 399.5L616.8 382.9M617.0 391.4L616.8 382.9L610.4 388.5M627.5 399.5L635.6 383.0M635.4 391.6L635.6 383.0L628.9 388.4M645.5 399.5L653.9 383.1M653.6 391.8L653.9 383.1L647.1 388.4M663.5 399.5L672.2 383.0M671.8 391.8L672.2 383.0L665.2 388.3M681.5 399.5L690.4 383.1M689.9 391.9L690.4 383.1L683.3 388.3M700.5 399.5L709.7 383.0M709.0 391.8L709.7 383.0L702.5 388.2M718.5 399.5L727.7 383.0M727.1 391.8L727.7 383.0L720.5 388.2M736.5 399.5L745.7 383.0M745.1 391.9L745.7 383.0L738.5 388.2M754.5 399.5L763.8 383.1M763.1 391.9L763.8 383.1L756.6 388.2M772.5 399.5L782.0 383.2M781.2 392.0L782.0 383.2L774.7 388.2M790.5 399.5L800.1 383.2M799.2 392.1L800.1 383.2L792.8 388.2M300.5 417.5L297.9 406.9M301.1 410.9L297.9 406.9L296.9 411.9M318.5 417.5L316.1 405.0M319.6 409.9L316.1 405.0L314.7 410.8M336.5 417.5L333.7 401.8M338.0 407.9L333.7 401.8L331.8 409.0M354.5 417.5L351.9 401.1M356.3 407.6L351.9 401.1L349.8 408.6M372.5 417.5L370.9 401.0M374.9 407.7L370.9 401.0L368.3 408.3M390.5 417.5L389.9 400.3M393.6 407.5L389.9 400.3L386.8 407.7M409.5 417.5L410.0 400.3M413.2 407.7L410.0 400.3L406.4 407.5M427.5 417.5L429.1 400.3M431.8 408.0L429.1 400.3L425.0 407.3M445.5 417.5L447.8 400.4M450.2 408.1L447.8 400.4L443.4 407.2M463.5 417.5L466.1 399.8M468.5 407.8L466.1 399.8L461.5 406.8M481.5 417.5L484.8 399.9M486.9 408.0L484.8 399.9L479.9 406.7M500.5 417.5L504.5 399.8M506.3 408.1L504.5 399.8L499.3 406.5M518.5 417.5L522.9 399.9M524.5 408.2L522.9 399.9L517.5 406.5M536.5 417.5L542.1 400.0M543.2 408.6L542.1 400.0L536.3 406.3M554.5 417.5L560.7 400.2M561.5 408.8L560.7 400.2L554.6 406.3M572.5 417.5L578.9 399.7M579.7 408.5L578.9 399.7L572.6 406.0M590.5 417.5L596.9 400.3M597.6 408.9L596.9 400.3L590.8 406.3M609.5 417.5L616.6 400.2M617.0 409.0L616.6 400.2L610.1 406.2M627.5 417.5L635.1 400.7M635.2 409.4L635.1 400.7L628.5 406.4M645.5 417.5L653.5 400.9M653.4 409.6L653.5 400.9L646.8 406.4M663.5 417.5L671.8 401.1M671.5 409.7L671.8 401.1L665.0 406.4M681.5 417.5L690.1 401.2M689.7 409.9L690.1 401.2L683.2 406.5M700.5 417.5L709.3 401.1M708.8 409.8L709.3 401.1L702.3 406.3M718.5 417.5L727.3 401.1M726.8 409.8L727.3 401.1L720.3 406.3M736.5 417.5L745.4 400.8M744.9 409.7L745.4 400.8L738.3 406.2M754.5 417.5L763.5 400.9M763.0 409.7L763.5 400.9L756.4 406.2M772.5 417.5L781.7 401.0M781.1 409.9L781.7 401.0L774.5 406.2M790.5 417.5L800.0 401.2M799.2 410.0L800.0 401.2L792.7 406.2M336.5 436.5L334.2 420.7M338.3 427.0L334.2 420.7L332.0 427.9M354.5 436.5L352.8 420.0M356.8 426.7L352.8 420.0L350.3 427.3M372.5 436.5L372.0 419.3M375.6 426.5L372.0 419.3L368.8 426.7M390.5 436.5L390.8 419.3M394.1 426.7L390.8 419.3L387.2 426.5M409.5 436.5L410.5 419.3M413.5 426.8L410.5 419.3L406.6 426.4M427.5 436.5L429.3 419.3M432.0 427.0L429.3 419.3L425.1 426.3M445.5 436.5L447.9 419.4M450.3 427.2L447.9 419.4L443.5 426.2M463.5 436.5L466.0 418.8M468.5 426.8L466.0 418.8L461.4 425.8M481.5 436.5L484.8 418.9M486.9 427.0L484.8 418.9L479.9 425.7M500.5 436.5L504.6 418.8M506.4 427.2L504.6 418.8L499.3 425.5M518.5 436.5L522.6 418.8M524.4 427.2L522.6 418.8L517.4 425.5M536.5 436.5L541.3 419.0M542.7 427.4L541.3 419.0L535.8 425.5M554.5 436.5L560.1 419.0M561.2 427.6L560.1 419.0L554.2 425.3M572.5 436.5L578.7 418.6M579.6 427.5L578.7 418.6L572.5 425.0M590.5 436.5L596.9 419.0M597.7 427.7L596.9 419.0L590.7 425.2M609.5 436.5L616.3 419.1M616.9 427.9L616.3 419.1L610.0 425.2M627.5 436.5L634.6 419.8M634.9 428.3L634.6 419.8L628.2 425.5M645.5 436.5L653.0 420.0M653.1 428.5L653.0 420.0L646.5 425.5M663.5 436.5L671.3 420.4M671.2 428.8L671.3 420.4L664.8 425.7M681.5 436.5L689.7 420.6M689.4 429.0L689.7 420.6L683.0 425.7M700.5 436.5L709.0 420.5M708.6 429.0L709.0 420.5L702.2 425.6M718.5 436.5L727.1 420.3M726.7 428.9L727.1 420.3L720.2 425.5M736.5 436.5L745.3 420.0M744.8 428.8L745.3 420.0L738.3 425.3M754.5 436.5L763.3 420.0M762.8 428.8L763.3 420.0L756.3 425.3M772.5 436.5L781.6 419.9M781.0 428.8L781.6 419.9L774.4 425.2M790.5 436.5L799.8 420.1M799.1 428.9L799.8 420.1L792.6 425.2M336.5 454.5L336.2 437.9M339.6 444.9L336.2 437.9L333.0 445.0M354.5 454.5L354.6 437.3M358.0 444.6L354.6 437.3L351.1 444.6M372.5 454.5L373.4 437.3M376.4 444.8L373.4 437.3L369.6 444.4M390.5 454.5L391.4 437.3M394.4 444.8L391.4 437.3L387.6 444.4M409.5 454.5L410.7 437.3M413.6 444.9L410.7 437.3L406.7 444.4M427.5 454.5L429.3 437.3M431.9 445.0L429.3 437.3L425.1 444.3M445.5 454.5L447.9 437.4M450.3 445.2L447.9 437.4L443.5 444.2M463.5 454.5L466.2 436.8M468.6 444.9L466.2 436.8L461.5 443.8M481.5 454.5L484.8 436.9M486.9 445.1L484.8 436.9L479.9 443.7M500.5 454.5L504.4 436.8M506.3 445.1L504.4 436.8L499.2 443.5M518.5 454.5L522.6 436.8M524.4 445.2L522.6 436.8L517.3 443.5M536.5 454.5L541.0 436.9M542.6 445.3L541.0 436.9L535.6 443.5M554.5 454.5L559.8 437.1M561.0 445.6L559.8 437.1L554.1 443.5M572.5 454.5L578.5 437.4M579.4 445.9L578.5 437.4L572.5 443.5M590.5 454.5L596.9 437.5M597.5 446.0L596.9 437.5L590.8 443.5M609.5 454.5L616.1 437.6M616.6 446.1L616.1 437.6L609.9 443.5M627.5 454.5L634.3 437.7M634.7 446.2L634.3 437.7L628.1 443.5M645.5 454.5L652.7 437.8M652.9 446.4L652.7 437.8L646.3 443.5M663.5 454.5L671.0 438.3M671.1 446.7L671.0 438.3L664.6 443.7M681.5 454.5L689.5 438.5M689.3 446.9L689.5 438.5L682.9 443.7M700.5 454.5L708.8 438.6M708.4 447.0L708.8 438.6L702.1 443.7M718.5 454.5L727.0 438.5M726.6 447.0L727.0 438.5L720.2 443.6M736.5 454.5L745.1 438.3M744.7 446.9L745.1 438.3L738.2 443.5M754.5 454.5L763.3 438.1M762.8 446.8L763.3 438.1L756.3 443.3M772.5 454.5L781.4 438.1M780.9 446.9L781.4 438.1L774.4 443.3M790.5 454.5L799.7 438.0M799.1 446.9L799.7 438.0L792.5 443.2M336.5 472.5L336.5 455.2M339.9 462.6L336.5 455.2L333.1 462.6M354.5 472.5L355.0 455.3M358.2 462.7L355.0 455.3L351.4 462.5M372.5 472.5L373.7 455.3M376.6 462.9L373.7 455.3L369.8 462.4M390.5 472.5L391.6 455.3M394.5 462.8L391.6 455.3L387.7 462.4M409.5 472.5L410.5 455.3M413.5 462.8L410.5 455.3L406.7 462.4M427.5 472.5L429.0 455.3M431.8 462.9L429.0 455.3L425.0 462.3M445.5 472.5L448.1 455.4M450.4 463.2L448.1 455.4L443.6 462.2M463.5 472.5L466.6 454.9M468.8 463.0L466.6 454.9L461.8 461.8M481.5 472.5L485.0 454.9M487.0 463.1L485.0 454.9L480.0 461.7M500.5 472.5L504.5 454.8M506.3 463.1L504.5 454.8L499.3 461.5M518.5 472.5L522.6 454.8M524.3 463.2L522.6 454.8L517.3 461.5M536.5 472.5L541.0 454.9M542.6 463.3L541.0 454.9L535.6 461.5M554.5 472.5L560.0 455.2M561.1 463.7L560.0 455.2L554.2 461.5M572.5 472.5L579.0 455.5M579.6 464.0L579.0 455.5L572.8 461.5M590.5 472.5L597.2 455.6M597.7 464.2L597.2 455.6L591.0 461.5M609.5 472.5L616.2 455.6M616.7 464.1L616.2 455.6L610.0 461.5M627.5 472.5L634.2 455.6M634.7 464.2L634.2 455.6L628.0 461.5M645.5 472.5L652.6 455.5M652.9 464.2L652.6 455.5L646.2 461.3M663.5 472.5L671.0 455.7M671.1 464.3L671.0 455.7L664.5 461.4M681.5 472.5L689.5 455.9M689.4 464.6L689.5 455.9L682.8 461.4M700.5 472.5L708.8 456.1M708.5 464.7L708.8 456.1L702.0 461.4M718.5 472.5L727.2 456.0M726.8 464.7L727.2 456.0L720.2 461.3M736.5 472.5L745.2 456.0M744.8 464.8L745.2 456.0L738.2 461.3M754.5 472.5L763.4 455.8M762.9 464.7L763.4 455.8L756.3 461.2M772.5 472.5L781.5 455.9M781.0 464.7L781.5 455.9L774.4 461.2M790.5 472.5L799.6 456.0M799.0 464.8L799.6 456.0L792.5 461.2M318.5 490.5L318.3 473.9M321.7 480.9L318.3 473.9L315.1 481.0M336.5 490.5L336.5 473.3M340.0 480.6L336.5 473.3L333.1 480.6M354.5 490.5L355.1 473.3M358.3 480.7L355.1 473.3L351.4 480.5M372.5 490.5L373.6 473.3M376.5 480.8L373.6 473.3L369.7 480.4M390.5 490.5L391.5 473.3M394.5 480.8L391.5 473.3L387.7 480.4M409.5 490.5L410.4 473.9M413.3 481.2L410.4 473.9L406.7 480.8M427.5 490.5L428.8 473.3M431.6 480.9L428.8 473.3L424.8 480.4M445.5 490.5L448.3 473.5M450.5 481.3L448.3 473.5L443.7 480.2M463.5 490.5L466.6 472.9M468.8 481.0L466.6 472.9L461.8 479.8M481.5 490.5L485.0 473.0M487.0 481.1L485.0 473.0L480.0 479.7M500.5 490.5L504.6 472.8M506.4 481.2L504.6 472.8L499.3 479.5M518.5 490.5L522.6 472.8M524.4 481.2L522.6 472.8L517.3 479.5M536.5 490.5L541.0 472.9M542.6 481.3L541.0 472.9L535.6 479.5M554.5 490.5L560.2 473.3M561.2 481.7L560.2 473.3L554.4 479.5M572.5 490.5L579.2 473.6M579.7 482.1L579.2 473.6L573.0 479.5M590.5 490.5L597.3 473.7M597.7 482.2L597.3 473.7L591.1 479.5M609.5 490.5L616.3 473.7M616.7 482.2L616.3 473.7L610.0 479.5M627.5 490.5L634.2 473.6M634.7 482.1L634.2 473.6L628.0 479.5M645.5 490.5L652.4 473.5M652.9 482.1L652.4 473.5L646.1 479.3M663.5 490.5L670.8 473.6M671.1 482.3L670.8 473.6L664.3 479.4M681.5 490.5L689.3 473.6M689.4 482.3L689.3 473.6L682.6 479.2M700.5 490.5L708.7 473.8M708.5 482.5L708.7 473.8L701.9 479.3M718.5 490.5L727.0 473.9M726.7 482.6L727.0 473.9L720.0 479.3M736.5 490.5L745.2 473.7M744.8 482.6L745.2 473.7L738.2 479.1M754.5 490.5L763.3 473.8M762.9 482.6L763.3 473.8L756.2 479.2M772.5 490.5L781.4 473.8M780.9 482.7L781.4 473.8L774.3 479.2M790.5 490.5L799.5 473.9M799.0 482.8L799.5 473.9L792.4 479.2M300.5 508.5L299.9 492.6M303.3 499.2L299.9 492.6L297.0 499.5M318.5 508.5L318.1 491.9M321.5 498.9L318.1 491.9L315.0 499.1M336.5 508.5L336.7 491.3M340.0 498.6L336.7 491.3L333.2 498.6M354.5 508.5L355.3 491.3M358.4 498.8L355.3 491.3L351.5 498.4M372.5 508.5L373.8 491.3M376.7 498.9L373.8 491.3L369.8 498.4M390.5 508.5L391.9 491.3M394.7 498.9L391.9 491.3L387.9 498.4M409.5 508.5L410.6 491.9M413.4 499.2L410.6 491.9L406.9 498.8M427.5 508.5L429.1 492.0M431.7 499.3L429.1 492.0L425.1 498.7M445.5 508.5L448.2 491.5M450.4 499.3L448.2 491.5L443.7 498.2M463.5 508.5L466.6 490.9M468.8 499.0L466.6 490.9L461.8 497.8M481.5 508.5L485.0 491.0M487.0 499.1L485.0 491.0L480.0 497.7M500.5 508.5L504.5 490.8M506.3 499.1L504.5 490.8L499.3 497.5M518.5 508.5L522.6 490.8M524.4 499.2L522.6 490.8L517.4 497.5M536.5 508.5L541.2 491.0M542.7 499.4L541.2 491.0L535.7 497.5M554.5 508.5L560.1 491.3M561.2 499.7L560.1 491.3L554.3 497.5M572.5 508.5L579.0 491.6M579.6 500.1L579.0 491.6L572.9 497.5M590.5 508.5L597.2 491.6M597.7 500.2L597.2 491.6L591.0 497.5M609.5 508.5L616.2 491.6M616.7 500.1L616.2 491.6L610.0 497.5M627.5 508.5L634.2 491.4M634.8 500.0L634.2 491.4L628.0 497.3M645.5 508.5L652.4 491.4M652.9 500.1L652.4 491.4L646.1 497.3M663.5 508.5L670.9 491.4M671.1 500.1L670.9 491.4L664.3 497.2M681.5 508.5L689.2 491.5M689.3 500.3L689.2 491.5L682.6 497.2M700.5 508.5L708.5 491.7M708.5 500.4L708.5 491.7L701.8 497.2M718.5 508.5L726.9 491.5M726.7 500.4L726.9 491.5L719.9 497.1M736.5 508.5L745.0 491.6M744.7 500.5L745.0 491.6L738.0 497.1M754.5 508.5L763.1 491.7M762.8 500.6L763.1 491.7L756.1 497.1M772.5 508.5L781.2 491.7M780.8 500.6L781.2 491.7L774.2 497.1M790.5 508.5L800.0 490.5M799.5 500.1L800.0 490.5L792.4 496.3M281.5 527.5L281.0 510.9M284.5 517.9L281.0 510.9L277.9 518.1M300.5 527.5L300.0 510.9M303.5 517.9L300.0 510.9L296.9 518.1M318.5 527.5L318.3 510.9M321.7 517.9L318.3 510.9L315.1 518.0M336.5 527.5L337.0 510.3M340.2 517.7L337.0 510.3L333.4 517.5M354.5 527.5L355.8 510.3M358.7 517.9L355.8 510.3L351.8 517.4M372.5 527.5L374.6 510.4M377.1 518.1L374.6 510.4L370.3 517.3M390.5 527.5L392.8 511.1M395.1 518.5L392.8 511.1L388.6 517.6M409.5 527.5L411.6 511.7M413.8 518.8L411.6 511.7L407.5 518.0M427.5 527.5L429.8 511.1M432.1 518.5L429.8 511.1L425.5 517.6M445.5 527.5L448.3 510.5M450.5 518.3L448.3 510.5L443.7 517.2M463.5 527.5L466.7 510.5M468.7 518.4L466.7 510.5L462.0 517.1M481.5 527.5L485.2 510.0M487.1 518.2L485.2 510.0L480.1 516.7M500.5 527.5L504.5 509.8M506.3 518.1L504.5 509.8L499.3 516.5M518.5 527.5L522.9 509.9M524.5 518.3L522.9 509.9L517.5 516.5M536.5 527.5L541.5 509.8M542.9 518.3L541.5 509.8L535.9 516.3M554.5 527.5L560.2 510.0M561.2 518.6L560.2 510.0L554.3 516.3M572.5 527.5L578.7 510.2M579.5 518.8L578.7 510.2L572.6 516.3M590.5 527.5L597.0 510.3M597.6 518.9L597.0 510.3L590.8 516.3M609.5 527.5L616.0 510.5M616.6 519.1L616.0 510.5L609.9 516.5M627.5 527.5L634.2 510.3M634.7 519.0L634.2 510.3L627.9 516.3M645.5 527.5L652.5 510.2M653.0 519.0L652.5 510.2L646.1 516.2M663.5 527.5L671.0 510.4M671.2 519.2L671.0 510.4L664.4 516.2M681.5 527.5L689.4 510.3M689.5 519.2L689.4 510.3L682.7 516.1M700.5 527.5L708.7 510.5M708.6 519.3L708.7 510.5L701.8 516.1M718.5 527.5L726.8 510.5M726.6 519.4L726.8 510.5L719.9 516.1M736.5 527.5L744.9 510.6M744.7 519.4L744.9 510.6L738.0 516.1M754.5 527.5L763.6 509.3M763.3 518.9L763.6 509.3L756.1 515.3M772.5 527.5L781.7 509.4M781.4 518.9L781.7 509.4L774.2 515.3M790.5 527.5L799.9 509.5M799.5 519.0L799.9 509.5L792.3 515.3M263.5 545.5L262.9 532.0M265.9 537.6L262.9 532.0L260.5 537.8M281.5 545.5L281.2 529.6M284.5 536.3L281.2 529.6L278.1 536.4M300.5 545.5L300.4 529.6M303.6 536.3L300.4 529.6L297.3 536.4M318.5 545.5L318.8 530.2M321.7 536.8L318.8 530.2L315.6 536.7M336.5 545.5L337.3 530.2M340.0 536.9L337.3 530.2L333.9 536.6M354.5 545.5L355.9 530.3M358.3 537.0L355.9 530.3L352.3 536.5M372.5 545.5L374.7 529.7M376.9 536.9L374.7 529.7L370.6 536.0M390.5 545.5L393.0 529.7M395.1 537.0L393.0 529.7L388.8 536.0M409.5 545.5L411.8 530.4M413.8 537.3L411.8 530.4L407.8 536.4M427.5 545.5L430.2 529.8M432.1 537.0L430.2 529.8L425.9 535.9M445.5 545.5L448.7 529.2M450.6 536.8L448.7 529.2L444.1 535.5M463.5 545.5L467.1 528.6M468.9 536.5L467.1 528.6L462.2 535.1M481.5 545.5L485.5 528.1M487.3 536.3L485.5 528.1L480.4 534.7M500.5 545.5L504.9 528.2M506.5 536.4L504.9 528.2L499.6 534.7M518.5 545.5L523.5 528.0M524.8 536.5L523.5 528.0L517.9 534.5M536.5 545.5L542.2 528.0M543.2 536.6L542.2 528.0L536.3 534.3M554.5 545.5L560.7 527.9M561.6 536.6L560.7 527.9L554.6 534.2M572.5 545.5L578.8 528.0M579.6 536.7L578.8 528.0L572.7 534.2M590.5 545.5L596.9 528.0M597.7 536.7L596.9 528.0L590.7 534.2M609.5 545.5L615.9 528.3M616.6 536.9L615.9 528.3L609.8 534.3M627.5 545.5L634.2 528.1M634.8 536.9L634.2 528.1L627.9 534.2M645.5 545.5L652.7 528.3M653.0 537.0L652.7 528.3L646.2 534.2M663.5 545.5L671.3 528.3M671.4 537.2L671.3 528.3L664.6 534.1M681.5 545.5L689.7 528.5M689.6 537.4L689.7 528.5L682.8 534.1M700.5 545.5L708.9 528.6M708.7 537.4L708.9 528.6L702.0 534.1M718.5 545.5L726.9 528.6M726.7 537.5L726.9 528.6L720.0 534.1M736.5 545.5L745.5 527.3M745.3 536.8L745.5 527.3L738.1 533.3M754.5 545.5L763.5 527.3M763.3 536.8L763.5 527.3L756.1 533.3M772.5 545.5L781.6 527.3M781.3 536.9L781.6 527.3L774.1 533.3M790.5 545.5L800.4 526.1M800.0 536.3L800.4 526.1L792.3 532.4M245.5 563.5L244.8 550.0M247.8 555.6L244.8 550.0L242.4 555.9M263.5 563.5L262.9 550.0M265.8 555.6L262.9 550.0L260.4 555.9M281.5 563.5L281.3 549.1M284.2 555.2L281.3 549.1L278.5 555.3M300.5 563.5L300.7 549.1M303.5 555.3L300.7 549.1L297.8 555.2M318.5 563.5L319.1 549.1M321.7 555.4L319.1 549.1L316.0 555.1M336.5 563.5L337.5 548.2M340.1 554.9L337.5 548.2L334.0 554.5M354.5 563.5L355.6 548.2M358.1 554.9L355.6 548.2L352.1 554.5M372.5 563.5L373.6 548.2M376.2 555.0L373.6 548.2L370.1 554.5M390.5 563.5L392.5 548.3M394.7 555.2L392.5 548.3L388.6 554.4M409.5 563.5L411.9 548.4M413.9 555.3L411.9 548.4L407.9 554.4M427.5 563.5L430.6 547.9M432.4 555.1L430.6 547.9L426.2 553.9M445.5 563.5L449.2 547.3M450.8 554.9L449.2 547.3L444.4 553.5M463.5 563.5L467.5 546.7M469.1 554.7L467.5 546.7L462.5 553.1M481.5 563.5L486.0 546.2M487.5 554.5L486.0 546.2L480.7 552.7M500.5 563.5L505.5 546.3M506.8 554.6L505.5 546.3L500.0 552.6M518.5 563.5L524.0 546.2M525.1 554.7L524.0 546.2L518.2 552.5M536.5 563.5L543.0 546.0M543.7 554.8L543.0 546.0L536.8 552.2M554.5 563.5L561.3 546.2M561.9 554.9L561.3 546.2L555.0 552.2M572.5 563.5L579.2 546.1M579.8 554.9L579.2 546.1L572.9 552.2M590.5 563.5L597.0 546.0M597.7 554.8L597.0 546.0L590.8 552.2M609.5 563.5L615.9 546.3M616.6 554.9L615.9 546.3L609.8 552.3M627.5 563.5L634.3 546.1M634.8 554.9L634.3 546.1L627.9 552.2M645.5 563.5L652.9 546.1M653.2 555.0L652.9 546.1L646.3 552.0M663.5 563.5L671.6 546.4M671.5 555.3L671.6 546.4L664.8 552.1M681.5 563.5L690.0 546.6M689.7 555.5L690.0 546.6L683.0 552.1M700.5 563.5L709.1 546.6M708.8 555.5L709.1 546.6L702.1 552.1M718.5 563.5L727.7 545.4M727.4 554.9L727.7 545.4L720.2 551.3M736.5 563.5L745.6 545.3M745.3 554.9L745.6 545.3L738.1 551.3M754.5 563.5L763.5 545.3M763.3 554.8L763.5 545.3L756.1 551.3M772.5 563.5L782.2 544.0M781.9 554.2L782.2 544.0L774.2 550.4M790.5 563.5L800.2 544.1M800.0 554.3L800.2 544.1L792.2 550.4M209.5 581.5L209.1 568.8M211.8 574.1L209.1 568.8L206.7 574.3M227.5 581.5L227.0 568.8M229.7 574.1L227.0 568.8L224.7 574.3M245.5 581.5L244.9 568.0M247.8 573.6L244.9 568.0L242.4 573.9M263.5 581.5L263.0 568.0M265.9 573.6L263.0 568.0L260.5 573.8M281.5 581.5L281.5 567.1M284.4 573.2L281.5 567.1L278.6 573.2M300.5 581.5L301.0 567.1M303.6 573.3L301.0 567.1L297.9 573.1M318.5 581.5L319.3 567.1M321.8 573.4L319.3 567.1L316.1 573.1M336.5 581.5L337.5 567.1M339.9 573.4L337.5 567.1L334.2 573.0M354.5 581.5L355.3 566.2M358.0 572.9L355.3 566.2L351.9 572.6M372.5 581.5L373.0 566.2M375.8 572.8L373.0 566.2L369.8 572.6M390.5 581.5L391.9 566.3M394.3 573.0L391.9 566.3L388.3 572.5M409.5 581.5L412.2 566.4M414.0 573.4L412.2 566.4L408.1 572.3M427.5 581.5L430.9 565.9M432.5 573.2L430.9 565.9L426.3 571.9M445.5 581.5L449.2 565.3M450.9 573.0L449.2 565.3L444.4 571.5M463.5 581.5L467.8 564.8M469.3 572.8L467.8 564.8L462.7 571.1M481.5 581.5L486.5 564.3M487.8 572.6L486.5 564.3L481.0 570.6M500.5 581.5L506.1 564.5M507.1 572.9L506.1 564.5L500.3 570.6M518.5 581.5L524.4 564.1M525.3 572.7L524.4 564.1L518.4 570.3M536.5 581.5L543.3 564.1M543.8 572.9L543.3 564.1L536.9 570.2M554.5 581.5L561.6 564.0M562.0 572.8L561.6 564.0L555.1 570.0M572.5 581.5L579.5 563.9M580.0 572.8L579.5 563.9L573.0 570.0M590.5 581.5L597.1 564.1M597.8 572.8L597.1 564.1L590.8 570.2M609.5 581.5L616.0 564.0M616.7 572.8L616.0 564.0L609.8 570.2M627.5 581.5L634.4 563.9M635.0 572.8L634.4 563.9L628.0 570.0M645.5 581.5L653.0 564.2M653.3 573.0L653.0 564.2L646.4 570.1M663.5 581.5L671.7 564.5M671.6 573.4L671.7 564.5L664.8 570.1M681.5 581.5L690.0 564.6M689.8 573.5L690.0 564.6L683.1 570.1M700.5 581.5L709.7 563.4M709.4 572.9L709.7 563.4L702.2 569.3M718.5 581.5L727.7 563.4M727.4 572.9L727.7 563.4L720.2 569.3M736.5 581.5L745.6 563.3M745.3 572.9L745.6 563.3L738.1 569.3M754.5 581.5L764.2 562.0M763.9 572.2L764.2 562.0L756.2 568.4M772.5 581.5L782.2 562.0M781.9 572.2L782.2 562.0L774.2 568.4M790.5 581.5L800.2 562.0M799.9 572.3L800.2 562.0L792.2 568.4M136.5 599.5L136.2 587.7M138.7 592.7L136.2 587.7L134.0 592.8M154.5 599.5L154.2 587.7M156.6 592.7L154.2 587.7L152.0 592.8M172.5 599.5L172.1 587.7M174.6 592.7L172.1 587.7L169.9 592.8M190.5 599.5L190.1 587.7M192.6 592.6L190.1 587.7L187.9 592.8M209.5 599.5L209.1 586.8M211.8 592.1L209.1 586.8L206.7 592.3M227.5 599.5L227.2 586.8M229.8 592.2L227.2 586.8L224.8 592.3M245.5 599.5L245.2 586.8M247.9 592.2L245.2 586.8L242.8 592.3M263.5 599.5L263.5 586.0M266.2 591.7L263.5 586.0L260.8 591.7M281.5 599.5L281.8 586.0M284.4 591.8L281.8 586.0L279.0 591.7M300.5 599.5L301.1 585.1M303.7 591.4L301.1 585.1L298.0 591.1M318.5 599.5L319.4 585.1M321.9 591.4L319.4 585.1L316.1 591.1M336.5 599.5L337.6 585.1M340.0 591.5L337.6 585.1L334.3 591.0M354.5 599.5L355.5 585.1M358.0 591.4L355.5 585.1L352.2 591.0M372.5 599.5L373.5 584.2M376.1 590.9L373.5 584.2L370.1 590.5M390.5 599.5L392.8 584.4M394.8 591.3L392.8 584.4L388.8 590.4M409.5 599.5L412.4 584.5M414.2 591.5L412.4 584.5L408.2 590.3M427.5 599.5L430.7 583.9M432.4 591.2L430.7 583.9L426.2 589.9M445.5 599.5L449.5 583.4M451.0 591.1L449.5 583.4L444.6 589.5M463.5 599.5L468.3 582.9M469.5 590.9L468.3 582.9L462.9 589.0M481.5 599.5L486.8 582.4M487.9 590.7L486.8 582.4L481.1 588.6M500.5 599.5L506.4 582.3M507.3 590.8L506.4 582.3L500.5 588.5M518.5 599.5L524.4 582.1M525.4 590.7L524.4 582.1L518.4 588.3M536.5 599.5L543.0 582.0M543.7 590.7L543.0 582.0L536.7 588.2M554.5 599.5L561.4 581.9M562.0 590.8L561.4 581.9L555.0 588.0M572.5 599.5L579.3 581.9M579.9 590.7L579.3 581.9L572.9 588.0M590.5 599.5L597.1 581.8M597.8 590.7L597.1 581.8L590.8 588.0M609.5 599.5L616.0 582.0M616.7 590.8L616.0 582.0L609.8 588.2M627.5 599.5L634.4 581.9M634.9 590.8L634.4 581.9L627.9 588.0M645.5 599.5L653.0 582.1M653.2 591.0L653.0 582.1L646.3 588.1M663.5 599.5L671.6 582.4M671.6 591.3L671.6 582.4L664.8 588.1M681.5 599.5L690.6 581.3M690.3 590.9L690.6 581.3L683.1 587.3M700.5 599.5L709.7 581.4M709.4 590.9L709.7 581.4L702.2 587.3M718.5 599.5L727.7 581.4M727.4 590.9L727.7 581.4L720.2 587.3M736.5 599.5L746.2 580.0M745.9 590.3L746.2 580.0L738.2 586.4M754.5 599.5L764.2 580.0M763.9 590.2L764.2 580.0L756.2 586.4M772.5 599.5L782.2 580.0M781.9 590.3L782.2 580.0L774.2 586.4M790.5 599.5L800.9 578.8M800.6 589.7L800.9 578.8L792.4 585.5M27.5 617.5L26.1 607.5M28.7 611.5L26.1 607.5L24.7 612.1M45.5 617.5L44.0 606.7M46.8 611.0L44.0 606.7L42.5 611.6M63.5 617.5L62.3 606.6M64.9 611.0L62.3 606.6L60.6 611.5M81.5 617.5L80.6 606.6M83.2 611.1L80.6 606.6L78.8 611.4M100.5 617.5L99.9 606.6M102.3 611.1L99.9 606.6L98.0 611.3M118.5 617.5L118.2 606.6M120.5 611.2L118.2 606.6L116.1 611.3M136.5 617.5L136.2 606.6M138.5 611.2L136.2 606.6L134.2 611.3M154.5 617.5L154.2 606.6M156.5 611.2L154.2 606.6L152.2 611.3M172.5 617.5L172.1 605.7M174.6 610.7L172.1 605.7L170.0 610.8M190.5 617.5L190.1 605.7M192.6 610.7L190.1 605.7L187.9 610.8M209.5 617.5L209.2 605.7M211.7 610.7L209.2 605.7L207.0 610.8M227.5 617.5L227.4 605.7M229.8 610.7L227.4 605.7L225.1 610.8M245.5 617.5L245.5 605.7M247.9 610.7L245.5 605.7L243.2 610.7M263.5 617.5L263.8 605.7M266.0 610.8L263.8 605.7L261.3 610.7M281.5 617.5L282.0 604.8M284.3 610.3L282.0 604.8L279.2 610.1M300.5 617.5L301.0 604.0M303.5 609.8L301.0 604.0L298.1 609.6M318.5 617.5L319.3 603.1M321.8 609.4L319.3 603.1L316.1 609.1M336.5 617.5L337.8 602.3M340.3 609.0L337.8 602.3L334.2 608.5M354.5 617.5L356.1 602.3M358.5 609.1L356.1 602.3L352.4 608.4M372.5 617.5L374.6 601.7M376.9 608.8L374.6 601.7L370.6 608.0M390.5 617.5L393.0 601.7M395.1 609.0L393.0 601.7L388.8 608.0M409.5 617.5L412.4 601.8M414.3 609.1L412.4 601.8L408.0 607.9M427.5 617.5L430.8 601.2M432.6 608.8L430.8 601.2L426.1 607.5M445.5 617.5L449.8 600.1M451.4 608.4L449.8 600.1L444.5 606.7M463.5 617.5L468.3 600.3M469.7 608.6L468.3 600.3L462.8 606.6M481.5 617.5L486.7 600.1M487.9 608.6L486.7 600.1L481.0 606.5M500.5 617.5L506.2 600.3M507.2 608.7L506.2 600.3L500.4 606.5M518.5 617.5L524.4 599.8M525.4 608.5L524.4 599.8L518.3 606.2M536.5 617.5L542.6 599.6M543.6 608.4L542.6 599.6L536.5 606.0M554.5 617.5L560.9 599.7M561.7 608.6L560.9 599.7L554.7 606.0M572.5 617.5L579.0 599.7M579.7 608.6L579.0 599.7L572.7 606.0M590.5 617.5L596.9 599.7M597.7 608.6L596.9 599.7L590.7 606.0M609.5 617.5L616.5 598.4M617.3 607.9L616.5 598.4L609.7 605.2M627.5 617.5L634.8 598.5M635.5 608.1L634.8 598.5L627.9 605.2M645.5 617.5L653.4 598.8M653.7 608.3L653.4 598.8L646.3 605.2M663.5 617.5L672.5 597.7M672.6 607.9L672.5 597.7L664.8 604.3M681.5 617.5L691.0 597.9M690.8 608.1L691.0 597.9L683.1 604.4M700.5 617.5L710.2 598.0M709.9 608.2L710.2 598.0L702.2 604.4M718.5 617.5L728.2 598.0M727.9 608.2L728.2 598.0L720.2 604.4M736.5 617.5L746.2 598.0M745.9 608.2L746.2 598.0L738.2 604.4M754.5 617.5L764.9 596.8M764.6 607.7L764.9 596.8L756.4 603.5M772.5 617.5L783.0 596.8M782.6 607.7L783.0 596.8L774.4 603.6M790.5 617.5L801.0 596.9M800.7 607.7L801.0 596.9L792.5 603.6M9.5 636.5L8.4 627.4M10.7 631.1L8.4 627.4L7.1 631.5M27.5 636.5L26.2 626.5M28.7 630.5L26.2 626.5L24.8 631.0M45.5 636.5L44.2 625.7M46.9 630.0L44.2 625.7L42.6 630.5M63.5 636.5L62.5 625.6M65.1 630.1L62.5 625.6L60.7 630.5M81.5 636.5L80.8 626.5M83.1 630.6L80.8 626.5L79.1 630.9M100.5 636.5L100.0 625.6M102.4 630.1L100.0 625.6L98.1 630.3M118.5 636.5L118.2 625.6M120.5 630.2L118.2 625.6L116.2 630.3M136.5 636.5L136.3 625.6M138.6 630.2L136.3 625.6L134.2 630.3M154.5 636.5L154.3 625.6M156.6 630.2L154.3 625.6L152.2 630.3M172.5 636.5L172.3 625.6M174.6 630.2L172.3 625.6L170.2 630.3M190.5 636.5L190.3 624.7M192.7 629.7L190.3 624.7L188.0 629.8M209.5 636.5L209.4 625.6M211.6 630.2L209.4 625.6L207.3 630.2M227.5 636.5L227.5 624.7M229.8 629.7L227.5 624.7L225.2 629.7M245.5 636.5L245.6 624.7M247.9 629.8L245.6 624.7L243.2 629.7M263.5 636.5L263.9 624.7M266.0 629.8L263.9 624.7L261.4 629.7M281.5 636.5L282.0 623.8M284.3 629.3L282.0 623.8L279.3 629.1M300.5 636.5L301.0 623.0M303.5 628.8L301.0 623.0L298.1 628.6M318.5 636.5L319.2 622.1M321.7 628.4L319.2 622.1L316.0 628.1M336.5 636.5L337.9 621.3M340.3 628.0L337.9 621.3L334.3 627.5M354.5 636.5L356.2 620.6M358.6 627.7L356.2 620.6L352.3 627.1M372.5 636.5L374.8 620.7M376.9 627.9L374.8 620.7L370.7 627.0M390.5 636.5L393.1 620.1M395.2 627.6L393.1 620.1L388.7 626.6M409.5 636.5L412.1 620.8M414.1 628.0L412.1 620.8L407.8 627.0M427.5 636.5L430.6 620.2M432.5 627.8L430.6 620.2L426.0 626.5M445.5 636.5L449.4 619.0M451.2 627.3L449.4 619.0L444.3 625.7M463.5 636.5L468.0 618.9M469.6 627.3L468.0 618.9L462.6 625.5M481.5 636.5L486.4 619.0M487.8 627.4L486.4 619.0L480.8 625.5M500.5 636.5L505.8 618.9M507.0 627.4L505.8 618.9L500.0 625.3M518.5 636.5L524.1 618.5M525.3 627.3L524.1 618.5L518.2 625.0M536.5 636.5L542.4 618.5M543.4 627.4L542.4 618.5L536.3 625.0M554.5 636.5L560.7 618.6M561.6 627.5L560.7 618.6L554.5 625.0M572.5 636.5L578.8 618.7M579.6 627.5L578.8 618.7L572.6 625.0M590.5 636.5L596.8 618.7M597.7 627.5L596.8 618.7L590.6 625.0M609.5 636.5L616.4 617.4M617.3 626.9L616.4 617.4L609.7 624.2M627.5 636.5L634.7 617.5M635.4 627.0L634.7 617.5L627.9 624.2M645.5 636.5L653.7 616.4M654.2 626.6L653.7 616.4L646.2 623.3M663.5 636.5L672.3 616.6M672.5 626.8L672.3 616.6L664.6 623.3M681.5 636.5L690.7 616.8M690.7 627.0L690.7 616.8L682.8 623.4M700.5 636.5L709.9 616.9M709.8 627.1L709.9 616.9L702.0 623.4M718.5 636.5L728.1 617.0M727.9 627.2L728.1 617.0L720.1 623.4M736.5 636.5L746.9 615.8M746.6 626.7L746.9 615.8L738.4 622.5M754.5 636.5L765.1 615.9M764.7 626.8L765.1 615.9L756.5 622.6M772.5 636.5L783.2 616.0M782.7 626.8L783.2 616.0L774.6 622.6M790.5 636.5L801.9 614.7M801.4 626.2L801.9 614.7L792.7 621.7M9.5 654.5L8.6 644.5M11.0 648.6L8.6 644.5L7.0 648.9M27.5 654.5L26.6 644.5M28.9 648.6L26.6 644.5L25.0 648.9M45.5 654.5L44.6 643.6M47.1 648.1L44.6 643.6L42.8 648.4M63.5 654.5L62.8 643.6M65.3 648.1L62.8 643.6L61.0 648.4M81.5 654.5L81.0 643.6M83.4 648.1L81.0 643.6L79.0 648.3M100.5 654.5L100.1 643.6M102.4 648.2L100.1 643.6L98.1 648.3M118.5 654.5L118.3 643.6M120.6 648.2L118.3 643.6L116.2 648.3M136.5 654.5L136.4 643.6M138.6 648.2L136.4 643.6L134.3 648.2M154.5 654.5L154.5 643.6M156.6 648.2L154.5 643.6L152.3 648.2M172.5 654.5L172.5 643.6M174.6 648.2L172.5 643.6L170.3 648.2M190.5 654.5L190.5 643.6M192.7 648.2L190.5 643.6L188.3 648.2M209.5 654.5L209.5 643.6M211.7 648.2L209.5 643.6L207.3 648.2M227.5 654.5L227.5 642.7M229.9 647.7L227.5 642.7L225.2 647.7M245.5 654.5L245.6 642.7M247.9 647.7L245.6 642.7L243.2 647.7M263.5 654.5L263.8 642.7M266.0 647.8L263.8 642.7L261.4 647.7M281.5 654.5L282.0 641.8M284.3 647.3L282.0 641.8L279.3 647.1M300.5 654.5L301.1 641.0M303.5 646.8L301.1 641.0L298.1 646.6M318.5 654.5L319.4 640.1M321.9 646.4L319.4 640.1L316.2 646.1M336.5 654.5L338.0 639.3M340.4 646.1L338.0 639.3L334.4 645.5M354.5 654.5L356.2 638.6M358.6 645.7L356.2 638.6L352.3 645.1M372.5 654.5L374.5 638.0M376.9 645.4L374.5 638.0L370.4 644.6M390.5 654.5L393.0 638.1M395.2 645.6L393.0 638.1L388.7 644.6M409.5 654.5L412.1 638.8M414.1 646.0L412.1 638.8L407.9 645.0M427.5 654.5L430.5 638.2M432.5 645.7L430.5 638.2L426.0 644.5M445.5 654.5L449.3 637.0M451.1 645.2L449.3 637.0L444.2 643.7M463.5 654.5L467.8 636.9M469.5 645.2L467.8 636.9L462.5 643.5M481.5 654.5L486.2 636.7M487.7 645.2L486.2 636.7L480.7 643.4M500.5 654.5L505.5 636.8M506.9 645.3L505.5 636.8L499.8 643.3M518.5 654.5L524.0 636.4M525.3 645.2L524.0 636.4L518.1 643.0M536.5 654.5L542.6 636.6M543.6 645.4L542.6 636.6L536.5 643.0M554.5 654.5L561.0 636.7M561.7 645.6L561.0 636.7L554.7 643.0M572.5 654.5L579.0 636.8M579.8 645.6L579.0 636.8L572.7 643.0M590.5 654.5L597.0 636.7M597.7 645.6L597.0 636.7L590.7 643.0M609.5 654.5L616.5 635.4M617.3 644.9L616.5 635.4L609.7 642.2M627.5 654.5L635.2 634.2M636.0 644.4L635.2 634.2L627.9 641.3M645.5 654.5L653.7 634.3M654.2 644.6L653.7 634.3L646.2 641.3M663.5 654.5L672.2 634.5M672.4 644.8L672.2 634.5L664.5 641.3M681.5 654.5L690.5 634.7M690.6 644.9L690.5 634.7L682.8 641.3M700.5 654.5L709.8 634.9M709.8 645.1L709.8 634.9L702.0 641.4M718.5 654.5L728.8 633.7M728.5 644.6L728.8 633.7L720.3 640.5M736.5 654.5L747.1 633.9M746.7 644.8L747.1 633.9L738.5 640.6M754.5 654.5L765.3 634.0M764.8 644.9L765.3 634.0L756.6 640.6M772.5 654.5L784.0 632.8M783.4 644.3L784.0 632.8L774.8 639.7M790.5 654.5L802.0 632.8M801.4 644.3L802.0 632.8L792.8 639.7M9.5 672.5L8.6 662.5M11.0 666.6L8.6 662.5L7.0 666.9M27.5 672.5L26.7 662.5M29.0 666.6L26.7 662.5L25.0 666.9M45.5 672.5L44.9 661.6M47.3 666.1L44.9 661.6L43.0 666.4M63.5 672.5L63.1 661.6M65.4 666.2L63.1 661.6L61.1 666.3M81.5 672.5L81.1 661.6M83.4 666.2L81.1 661.6L79.1 666.3M100.5 672.5L100.2 661.6M102.5 666.2L100.2 661.6L98.1 666.3M118.5 672.5L118.4 661.6M120.6 666.2L118.4 661.6L116.3 666.3M136.5 672.5L136.5 661.6M138.7 666.2L136.5 661.6L134.3 666.2M154.5 672.5L154.5 661.6M156.7 666.2L154.5 661.6L152.3 666.2M172.5 672.5L172.5 661.6M174.7 666.2L172.5 661.6L170.3 666.2M190.5 672.5L190.5 661.6M192.7 666.2L190.5 661.6L188.3 666.2M209.5 672.5L209.5 661.6M211.7 666.2L209.5 661.6L207.3 666.2M227.5 672.5L227.5 661.6M229.7 666.2L227.5 661.6L225.3 666.2M245.5 672.5L245.5 660.7M247.9 665.7L245.5 660.7L243.2 665.7M263.5 672.5L263.8 660.7M266.0 665.8L263.8 660.7L261.3 665.7M281.5 672.5L282.1 659.8M284.4 665.4L282.1 659.8L279.4 665.1M300.5 672.5L301.4 659.0M303.7 664.9L301.4 659.0L298.3 664.6M318.5 672.5L319.8 657.3M322.3 664.0L319.8 657.3L316.2 663.5M336.5 672.5L337.9 657.3M340.3 664.0L337.9 657.3L334.3 663.5M354.5 672.5L356.2 656.6M358.6 663.7L356.2 656.6L352.3 663.1M372.5 672.5L374.5 656.0M376.9 663.4L374.5 656.0L370.4 662.6M390.5 672.5L393.1 656.1M395.3 663.6L393.1 656.1L388.8 662.6M409.5 672.5L412.4 656.1M414.4 663.7L412.4 656.1L407.9 662.5M427.5 672.5L430.6 655.5M432.7 663.4L430.6 655.5L425.9 662.1M445.5 672.5L449.3 655.0M451.2 663.2L449.3 655.0L444.2 661.7M463.5 672.5L468.0 654.9M469.6 663.3L468.0 654.9L462.6 661.5M481.5 672.5L486.2 654.7M487.8 663.2L486.2 654.7L480.7 661.4M500.5 672.5L505.4 654.8M506.8 663.3L505.4 654.8L499.8 661.3M518.5 672.5L524.2 654.5M525.3 663.3L524.2 654.5L518.2 661.0M536.5 672.5L543.1 654.8M543.8 663.7L543.1 654.8L536.8 661.0M554.5 672.5L561.5 654.9M562.0 663.8L561.5 654.9L555.0 661.0M572.5 672.5L579.4 654.9M579.9 663.8L579.4 654.9L573.0 661.0M590.5 672.5L597.2 654.8M597.8 663.7L597.2 654.8L590.8 661.0M609.5 672.5L616.6 653.4M617.3 663.0L616.6 653.4L609.8 660.2M627.5 672.5L635.3 652.2M636.0 662.4L635.3 652.2L627.9 659.3M645.5 672.5L653.8 652.4M654.2 662.6L653.8 652.4L646.3 659.3M663.5 672.5L672.3 652.6M672.5 662.8L672.3 652.6L664.6 659.3M681.5 672.5L690.7 652.8M690.7 663.0L690.7 652.8L682.9 659.4M700.5 672.5L710.6 651.6M710.4 662.5L710.6 651.6L702.1 658.5M718.5 672.5L728.8 651.8M728.6 662.6L728.8 651.8L720.3 658.5M736.5 672.5L747.2 651.9M746.7 662.8L747.2 651.9L738.5 658.6M754.5 672.5L766.0 650.8M765.4 662.3L766.0 650.8L756.8 657.7M772.5 672.5L784.0 650.8M783.4 662.3L784.0 650.8L774.8 657.7M790.5 672.5L802.0 650.8M801.4 662.3L802.0 650.8L792.8 657.7M9.5 690.5L8.6 680.5M11.0 684.6L8.6 680.5L7.0 684.9M27.5 690.5L26.8 680.5M29.1 684.6L26.8 680.5L25.1 684.9M45.5 690.5L45.1 680.5M47.3 684.7L45.1 680.5L43.3 684.8M63.5 690.5L63.1 680.5M65.3 684.7L63.1 680.5L61.3 684.8M81.5 690.5L81.1 680.5M83.3 684.7L81.1 680.5L79.3 684.8M100.5 690.5L100.2 680.5M102.3 684.7L100.2 680.5L98.3 684.8M118.5 690.5L118.4 680.5M120.4 684.7L118.4 680.5L116.4 684.8M136.5 690.5L136.5 680.5M138.5 684.7L136.5 680.5L134.5 684.7M154.5 690.5L154.5 680.5M156.5 684.7L154.5 680.5L152.5 684.7M172.5 690.5L172.5 679.6M174.7 684.2L172.5 679.6L170.3 684.2M190.5 690.5L190.5 679.6M192.7 684.2L190.5 679.6L188.3 684.2M209.5 690.5L209.5 680.5M211.5 684.7L209.5 680.5L207.5 684.7M227.5 690.5L227.5 679.6M229.7 684.2L227.5 679.6L225.3 684.2M245.5 690.5L245.6 678.7M247.9 683.7L245.6 678.7L243.2 683.7M263.5 690.5L263.9 677.8M266.2 683.3L263.9 677.8L261.2 683.2M281.5 690.5L282.3 677.0M284.7 682.9L282.3 677.0L279.3 682.6M300.5 690.5L301.7 676.1M304.0 682.5L301.7 676.1L298.3 682.0M318.5 690.5L319.8 675.3M322.3 682.0L319.8 675.3L316.2 681.5M336.5 690.5L337.9 674.6M340.5 681.7L337.9 674.6L334.1 681.1M354.5 690.5L356.1 674.0M358.7 681.3L356.1 674.0L352.1 680.7M372.5 690.5L374.8 673.4M377.2 681.1L374.8 673.4L370.4 680.2M390.5 690.5L393.4 673.5M395.6 681.3L393.4 673.5L388.8 680.2M409.5 690.5L412.4 674.2M414.4 681.7L412.4 674.2L407.9 680.5M427.5 690.5L430.6 673.5M432.6 681.4L430.6 673.5L425.9 680.1M445.5 690.5L449.4 672.8M451.3 681.1L449.4 672.8L444.2 679.5M463.5 690.5L468.1 672.9M469.6 681.3L468.1 672.9L462.7 679.5M481.5 690.5L486.3 672.7M487.8 681.2L486.3 672.7L480.7 679.4M500.5 690.5L505.4 672.5M506.9 681.1L505.4 672.5L499.7 679.2M518.5 690.5L524.2 672.5M525.4 681.3L524.2 672.5L518.2 679.0M536.5 690.5L543.4 672.9M544.0 681.8L543.4 672.9L537.0 679.0M554.5 690.5L561.6 673.0M562.0 681.8L561.6 673.0L555.1 679.0M572.5 690.5L579.5 672.9M580.0 681.8L579.5 672.9L573.0 679.0M590.5 690.5L597.8 671.5M598.4 681.1L597.8 671.5L590.9 678.2M609.5 690.5L617.2 670.1M617.9 680.3L617.2 670.1L609.8 677.3M627.5 690.5L635.4 670.2M636.1 680.4L635.4 670.2L628.0 677.3M645.5 690.5L654.0 670.5M654.4 680.7L654.0 670.5L646.4 677.3M663.5 690.5L672.6 670.8M672.7 681.0L672.6 670.8L664.8 677.4M681.5 690.5L691.7 669.7M691.5 680.6L691.7 669.7L683.2 676.5M700.5 690.5L710.8 669.8M710.5 680.6L710.8 669.8L702.3 676.5M718.5 690.5L728.9 669.8M728.6 680.7L728.9 669.8L720.4 676.5M736.5 690.5L747.7 668.6M747.3 680.2L747.7 668.6L738.6 675.7M754.5 690.5L766.0 668.7M765.4 680.3L766.0 668.7L756.8 675.7M772.5 690.5L784.0 668.8M783.4 680.3L784.0 668.8L774.8 675.7M790.5 690.5L802.0 668.8M801.4 680.3L802.0 668.8L792.8 675.7M9.5 708.5L8.7 698.5M11.1 702.6L8.7 698.5L7.1 702.9M27.5 708.5L26.9 698.5M29.1 702.6L26.9 698.5L25.2 702.9M45.5 708.5L45.1 698.5M47.3 702.7L45.1 698.5L43.3 702.8M63.5 708.5L63.1 698.5M65.3 702.7L63.1 698.5L61.3 702.8M81.5 708.5L81.2 698.5M83.3 702.7L81.2 698.5L79.3 702.8M100.5 708.5L100.2 698.5M102.3 702.7L100.2 698.5L98.4 702.8M118.5 708.5L118.4 698.5M120.4 702.7L118.4 698.5L116.4 702.8M136.5 708.5L136.5 698.5M138.5 702.7L136.5 698.5L134.5 702.7M154.5 708.5L154.5 698.5M156.5 702.7L154.5 698.5L152.5 702.7M172.5 708.5L172.5 698.5M174.5 702.7L172.5 698.5L170.5 702.7M190.5 708.5L190.6 697.6M192.7 702.2L190.6 697.6L188.4 702.2M209.5 708.5L209.6 698.5M211.5 702.7L209.6 698.5L207.6 702.7M227.5 708.5L227.6 697.6M229.7 702.3L227.6 697.6L225.4 702.2M245.5 708.5L245.7 696.7M248.0 701.8L245.7 696.7L243.3 701.7M263.5 708.5L264.0 695.8M266.3 701.3L264.0 695.8L261.3 701.1M281.5 708.5L282.4 695.0M284.7 700.9L282.4 695.0L279.3 700.6M300.5 708.5L301.8 693.3M304.3 700.0L301.8 693.3L298.2 699.5M318.5 708.5L319.9 692.6M322.5 699.7L319.9 692.6L316.2 699.1M336.5 708.5L338.0 692.0M340.6 699.3L338.0 692.0L334.1 698.7M354.5 708.5L356.2 692.0M358.8 699.4L356.2 692.0L352.2 698.7M372.5 708.5L374.9 691.4M377.3 699.2L374.9 691.4L370.5 698.2M390.5 708.5L393.4 691.5M395.6 699.3L393.4 691.5L388.8 698.2M409.5 708.5L412.6 691.5M414.6 699.4L412.6 691.5L407.9 698.1M427.5 708.5L430.8 691.6M432.7 699.4L430.8 691.6L426.0 698.1M445.5 708.5L449.3 690.8M451.2 699.1L449.3 690.8L444.2 697.6M463.5 708.5L468.2 691.0M469.7 699.4L468.2 691.0L462.7 697.5M481.5 708.5L486.5 690.8M487.9 699.3L486.5 690.8L480.9 697.3M500.5 708.5L505.6 690.6M507.0 699.2L505.6 690.6L499.9 697.2M518.5 708.5L524.1 690.5M525.3 699.3L524.1 690.5L518.2 697.0M536.5 708.5L543.1 690.8M543.8 699.7L543.1 690.8L536.8 697.0M554.5 708.5L561.5 690.9M562.0 699.8L561.5 690.9L555.0 697.0M572.5 708.5L579.4 690.9M580.0 699.8L579.4 690.9L573.0 697.0M590.5 708.5L597.7 689.5M598.4 699.0L597.7 689.5L590.9 696.2M609.5 708.5L617.2 688.1M617.9 698.3L617.2 688.1L609.9 695.3M627.5 708.5L635.5 688.3M636.1 698.5L635.5 688.3L628.1 695.3M645.5 708.5L654.3 688.6M654.5 698.8L654.3 688.6L646.6 695.3M663.5 708.5L673.6 687.6M673.4 698.5L673.6 687.6L665.1 694.5M681.5 708.5L691.9 687.8M691.6 698.7L691.9 687.8L683.4 694.5M700.5 708.5L711.0 687.8M710.6 698.7L711.0 687.8L702.4 694.6M718.5 708.5L729.6 686.6M729.2 698.1L729.6 686.6L720.5 693.7M736.5 708.5L747.6 686.6M747.2 698.1L747.6 686.6L738.5 693.7M754.5 708.5L765.8 686.6M765.3 698.2L765.8 686.6L756.6 693.7M772.5 708.5L783.9 686.7M783.4 698.2L783.9 686.7L774.7 693.7M790.5 708.5L802.5 685.4M802.0 697.6L802.5 685.4L792.8 692.9M9.5 727.5L8.9 717.5M11.1 721.6L8.9 717.5L7.1 721.9M27.5 727.5L27.0 717.5M29.2 721.6L27.0 717.5L25.2 721.8M45.5 727.5L45.1 717.5M47.3 721.7L45.1 717.5L43.3 721.8M63.5 727.5L63.1 717.5M65.3 721.7L63.1 717.5L61.3 721.8M81.5 727.5L81.2 717.5M83.3 721.7L81.2 717.5L79.3 721.8M100.5 727.5L100.3 717.5M102.4 721.7L100.3 717.5L98.4 721.8M118.5 727.5L118.4 717.5M120.4 721.7L118.4 717.5L116.4 721.8M136.5 727.5L136.5 717.5M138.5 721.7L136.5 717.5L134.5 721.7M154.5 727.5L154.5 717.5M156.5 721.7L154.5 717.5L152.5 721.7M172.5 727.5L172.5 716.6M174.7 721.2L172.5 716.6L170.4 721.2M190.5 727.5L190.6 716.6M192.7 721.3L190.6 716.6L188.4 721.2M209.5 727.5L209.7 717.5M211.6 721.8L209.7 717.5L207.6 721.7M227.5 727.5L227.8 715.7M230.0 720.8L227.8 715.7L225.3 720.7M245.5 727.5L246.0 714.8M248.3 720.3L246.0 714.8L243.3 720.1M263.5 727.5L264.2 714.0M266.6 719.9L264.2 714.0L261.2 719.6M281.5 727.5L282.6 713.1M285.0 719.5L282.6 713.1L279.3 719.0M300.5 727.5L301.9 712.3M304.3 719.0L301.9 712.3L298.3 718.5M318.5 727.5L320.1 711.6M322.5 718.7L320.1 711.6L316.2 718.1M336.5 727.5L338.2 711.0M340.8 718.4L338.2 711.0L334.2 717.7M354.5 727.5L356.6 710.4M359.1 718.1L356.6 710.4L352.3 717.3M372.5 727.5L375.1 710.4M377.4 718.2L375.1 710.4L370.6 717.2M390.5 727.5L393.5 710.5M395.6 718.4L393.5 710.5L388.9 717.2M409.5 727.5L412.8 710.6M414.7 718.4L412.8 710.6L408.0 717.1M427.5 727.5L430.9 709.9M433.0 718.1L430.9 709.9L426.0 716.7M445.5 727.5L449.2 709.7M451.1 718.0L449.2 709.7L444.1 716.6M463.5 727.5L468.6 709.8M469.9 718.4L468.6 709.8L462.9 716.3M481.5 727.5L486.9 709.9M488.1 718.5L486.9 709.9L481.1 716.3M500.5 727.5L505.9 709.6M507.1 718.3L505.9 709.6L500.0 716.2M518.5 727.5L524.0 709.4M525.2 718.2L524.0 709.4L518.1 716.0M536.5 727.5L542.6 709.6M543.5 718.4L542.6 709.6L536.4 716.0M554.5 727.5L561.0 709.8M561.8 718.6L561.0 709.8L554.7 716.0M572.5 727.5L579.1 709.8M579.8 718.6L579.1 709.8L572.7 716.0M590.5 727.5L597.5 708.4M598.3 717.9L597.5 708.4L590.7 715.2M609.5 727.5L617.1 707.1M617.9 717.3L617.1 707.1L609.8 714.3M627.5 727.5L635.6 707.3M636.2 717.5L635.6 707.3L628.1 714.3M645.5 727.5L654.4 707.6M654.5 717.9L654.4 707.6L646.7 714.3M663.5 727.5L673.7 706.7M673.5 717.6L673.7 706.7L665.2 713.5M681.5 727.5L692.0 706.8M691.6 717.7L692.0 706.8L683.4 713.6M700.5 727.5L711.0 706.9M710.6 717.7L711.0 706.9L702.4 713.6M718.5 727.5L729.6 705.6M729.3 717.1L729.6 705.6L720.5 712.7M736.5 727.5L747.6 705.5M747.2 717.1L747.6 705.5L738.5 712.7M754.5 727.5L765.6 705.5M765.2 717.1L765.6 705.5L756.5 712.7M772.5 727.5L784.3 704.3M783.9 716.5L784.3 704.3L774.7 711.8M790.5 727.5L802.3 704.3M801.9 716.5L802.3 704.3L792.7 711.8M9.5 745.5L9.0 735.5M11.2 739.6L9.0 735.5L7.2 739.8M27.5 745.5L27.0 735.5M29.2 739.6L27.0 735.5L25.2 739.8M45.5 745.5L45.1 735.5M47.3 739.7L45.1 735.5L43.3 739.8M63.5 745.5L63.2 735.5M65.3 739.7L63.2 735.5L61.3 739.8M81.5 745.5L81.2 735.5M83.3 739.7L81.2 735.5L79.3 739.8M100.5 745.5L100.3 735.5M102.4 739.7L100.3 735.5L98.4 739.8M118.5 745.5L118.4 735.5M120.5 739.7L118.4 735.5L116.5 739.7M136.5 745.5L136.5 735.5M138.5 739.7L136.5 735.5L134.5 739.7M154.5 745.5L154.6 735.5M156.5 739.7L154.6 735.5L152.5 739.7M172.5 745.5L172.6 734.6M174.7 739.3L172.6 734.6L170.4 739.2M190.5 745.5L190.7 734.6M192.8 739.3L190.7 734.6L188.4 739.2M209.5 745.5L209.8 734.6M211.8 739.3L209.8 734.6L207.5 739.2M227.5 745.5L227.9 733.7M230.1 738.8L227.9 733.7L225.4 738.6M245.5 745.5L246.1 732.8M248.4 738.4L246.1 732.8L243.3 738.1M263.5 745.5L264.4 732.0M266.7 737.9L264.4 732.0L261.3 737.6M281.5 745.5L282.8 730.3M285.3 737.0L282.8 730.3L279.2 736.5M300.5 745.5L302.0 729.6M304.5 736.7L302.0 729.6L298.2 736.1M318.5 745.5L320.2 729.6M322.6 736.7L320.2 729.6L316.3 736.1M336.5 745.5L338.5 729.0M340.9 736.4L338.5 729.0L334.3 735.6M354.5 745.5L356.8 728.4M359.2 736.2L356.8 728.4L352.4 735.2M372.5 745.5L375.2 728.5M377.4 736.3L375.2 728.5L370.7 735.2M390.5 745.5L393.7 727.9M395.8 736.0L393.7 727.9L388.8 734.8M409.5 745.5L412.8 728.6M414.7 736.4L412.8 728.6L408.0 735.1M427.5 745.5L431.0 727.9M433.0 736.1L431.0 727.9L426.0 734.7M445.5 745.5L449.3 727.8M451.2 736.1L449.3 727.8L444.2 734.6M463.5 745.5L468.4 727.8M469.8 736.3L468.4 727.8L462.8 734.3M481.5 745.5L486.8 727.9M488.0 736.4L486.8 727.9L481.0 734.3M500.5 745.5L505.8 727.6M507.1 736.3L505.8 727.6L500.0 734.2M518.5 745.5L523.9 727.4M525.2 736.2L523.9 727.4L518.0 734.0M536.5 745.5L542.2 727.5M543.3 736.3L542.2 727.5L536.2 734.0M554.5 745.5L560.5 727.6M561.5 736.4L560.5 727.6L554.4 734.0M572.5 745.5L578.7 727.6M579.6 736.5L578.7 727.6L572.5 734.0M590.5 745.5L597.3 726.3M598.2 735.8L597.3 726.3L590.6 733.2M609.5 745.5L617.0 725.1M617.9 735.3L617.0 725.1L609.8 732.3M627.5 745.5L635.6 725.3M636.1 735.5L635.6 725.3L628.1 732.3M645.5 745.5L654.9 724.3M655.1 735.2L654.9 724.3L646.7 731.5M663.5 745.5L673.6 724.6M673.4 735.5L673.6 724.6L665.2 731.5M681.5 745.5L691.9 724.8M691.6 735.7L691.9 724.8L683.4 731.5M700.5 745.5L711.6 723.6M711.3 735.1L711.6 723.6L702.5 730.7M718.5 745.5L729.6 723.5M729.2 735.1L729.6 723.5L720.5 730.7M736.5 745.5L747.5 723.5M747.2 735.1L747.5 723.5L738.4 730.7M754.5 745.5L766.1 722.2M765.8 734.4L766.1 722.2L756.5 729.8M772.5 745.5L784.0 722.2M783.8 734.4L784.0 722.2L774.5 729.8M790.5 745.5L802.7 720.9M802.4 733.8L802.7 720.9L792.6 729.0M9.5 763.5L9.1 753.5M11.3 757.7L9.1 753.5L7.3 757.8M27.5 763.5L27.1 753.5M29.3 757.7L27.1 753.5L25.3 757.8M45.5 763.5L45.2 753.5M47.3 757.7L45.2 753.5L43.3 757.8M63.5 763.5L63.2 753.5M65.3 757.7L63.2 753.5L61.3 757.8M81.5 763.5L81.3 753.5M83.4 757.7L81.3 753.5L79.4 757.8M100.5 763.5L100.4 753.5M102.4 757.7L100.4 753.5L98.4 757.8M118.5 763.5L118.5 753.5M120.5 757.7L118.5 753.5L116.5 757.7M136.5 763.5L136.6 753.5M138.5 757.7L136.6 753.5L134.5 757.7M154.5 763.5L154.6 752.6M156.7 757.3L154.6 752.6L152.4 757.2M172.5 763.5L172.7 752.6M174.8 757.3L172.7 752.6L170.4 757.2M190.5 763.5L190.8 752.6M192.8 757.3L190.8 752.6L188.5 757.2M209.5 763.5L209.9 752.6M211.9 757.3L209.9 752.6L207.6 757.2M227.5 763.5L228.1 750.8M230.4 756.4L228.1 750.8L225.3 756.1M245.5 763.5L246.3 750.0M248.7 755.9L246.3 750.0L243.3 755.6M263.5 763.5L264.6 749.1M267.0 755.5L264.6 749.1L261.3 755.0M281.5 763.5L282.9 748.3M285.3 755.0L282.9 748.3L279.3 754.5M300.5 763.5L302.2 747.6M304.6 754.7L302.2 747.6L298.3 754.1M318.5 763.5L320.4 747.0M322.9 754.4L320.4 747.0L316.3 753.7M336.5 763.5L338.7 746.4M341.2 754.1L338.7 746.4L334.4 753.2M354.5 763.5L357.0 746.4M359.3 754.2L357.0 746.4L352.5 753.2M372.5 763.5L375.4 745.8M377.7 753.9L375.4 745.8L370.7 752.8M390.5 763.5L393.7 745.9M395.8 754.0L393.7 745.9L388.9 752.8M409.5 763.5L412.8 746.6M414.8 754.4L412.8 746.6L408.0 753.1M427.5 763.5L431.1 746.0M433.0 754.1L431.1 746.0L426.1 752.7M445.5 763.5L449.5 745.8M451.3 754.1L449.5 745.8L444.3 752.5M463.5 763.5L468.1 745.7M469.7 754.2L468.1 745.7L462.6 752.4M481.5 763.5L486.5 745.5M487.9 754.2L486.5 745.5L480.8 752.2M500.5 763.5L505.6 745.6M507.0 754.2L505.6 745.6L499.9 752.2M518.5 763.5L523.8 745.3M525.1 754.1L523.8 745.3L517.9 752.0M536.5 763.5L541.9 745.4M543.2 754.2L541.9 745.4L536.0 752.0M554.5 763.5L560.2 745.5M561.3 754.3L560.2 745.5L554.2 752.0M572.5 763.5L578.4 745.5M579.4 754.4L578.4 745.5L572.3 752.0M590.5 763.5L597.1 744.3M598.1 753.8L597.1 744.3L590.4 751.2M609.5 763.5L616.9 743.0M617.8 753.2L616.9 743.0L609.7 750.3M627.5 763.5L636.0 741.9M636.6 752.8L636.0 741.9L628.1 749.4M645.5 763.5L654.7 742.2M655.0 753.1L654.7 742.2L646.6 749.5M663.5 763.5L673.3 742.5M673.3 753.4L673.3 742.5L665.0 749.5M681.5 763.5L692.3 741.4M692.1 753.0L692.3 741.4L683.3 748.7M700.5 763.5L711.5 741.5M711.2 753.0L711.5 741.5L702.4 748.7M718.5 763.5L729.4 741.5M729.2 753.0L729.4 741.5L720.4 748.7M736.5 763.5L748.0 740.1M747.7 752.4L748.0 740.1L738.4 747.8M754.5 763.5L765.9 740.1M765.7 752.3L765.9 740.1L756.4 747.8M772.5 763.5L784.4 738.8M784.3 751.7L784.4 738.8L774.4 746.9M790.5 763.5L802.4 738.8M802.2 751.7L802.4 738.8L792.4 746.9" stroke="#fff" stroke-width="1" fill="none" shape-rendering="crispEdges"/><path d="M9.5 27V772.5M81.5 27V772.5M154.5 27V772.5M227.5 27V772.5M299.5 27V772.5M372.5 27V772.5M445.5 27V772.5M518.5 27V772.5M590.5 27V772.5M663.5 27V772.5M736.5 27V772.5M0 36.5H800M0 109.5H800M0 181.5H800M0 254.5H800M0 327.5H800M0 400.5H800M0 472.5H800M0 545.5H800M0 618.5H800M0 690.5H800M0 763.5H800" stroke="#808080" stroke-width="1" shape-rendering="crispEdges"/><path clip-path="url(#map)" d="M211.9 141.9L211.2 156.2L214.0 170.0L217.2 174.8L215.6 178.8L216.0 185.0L213.8 187.5L197.5 187.5L195.6 189.4L196.9 195.0L195.6 200.0L196.9 203.1L191.9 207.5L190.0 212.5L188.1 216.2L187.5 226.2L187.5 235.0L193.1 243.1L194.4 247.5L194.4 254.4L198.1 256.9L199.4 261.2L199.4 267.5L196.2 271.2L193.1 273.8L185.6 275.0L189.4 276.9L194.4 281.2L190.6 285.0L191.2 290.0L195.0 293.8L200.0 296.2L202.5 298.8L203.8 302.5L211.2 307.5L216.2 310.0L228.0 314.0L240.0 317.5L247.5 321.2L255.0 325.0L262.5 328.1L270.0 335.0L276.2 340.0L282.5 345.0L286.9 350.0L290.0 356.2L290.6 359.4L288.8 362.5L285.0 366.2L280.6 371.2L276.2 376.2L273.8 380.0L272.5 385.0L271.9 390.0L272.5 396.2L274.4 401.2L276.9 406.2L280.6 411.9L286.2 416.2L291.2 420.0L297.5 423.1L303.8 426.2L307.5 425.6L312.5 423.8L316.9 422.5L318.8 423.1L320.0 426.2L321.2 432.5L321.5 437.0L324.0 446.3L324.8 454.4L324.8 464.1L320.0 469.0L313.4 477.2L306.9 486.1L298.8 496.7L297.2 501.5L289.0 511.3L282.5 516.2L276.8 519.4L271.1 525.9L265.4 531.6L262.2 537.3L261.1 543.8L260.6 550.3L256.5 555.2L250.0 558.5L243.8 562.0L235.7 566.8L227.6 570.9L217.8 576.6L208.0 579.8L201.5 581.5L191.8 583.1L185.3 586.3L175.5 588.0L165.8 590.4L156.0 592.8L147.9 596.1L139.8 597.5L126.0 599.0L112.0 601.1L105.0 602.5L98.0 605.7L91.0 606.4L82.3 607.4L60.0 610.3L31.5 613.9L22.8 615.1L17.5 616.2L7.0 616.9L0.0 617.4M211.9 141.9L216.9 152.5L217.5 157.5L218.1 167.5L223.8 173.1L223.1 181.2L220.6 185.0L216.2 188.8L211.2 190.0L203.8 188.8L200.6 190.6L200.6 200.0L201.2 205.0L196.9 210.0L199.4 213.8L196.2 218.8L195.6 222.5L196.9 226.2L195.6 228.8L195.6 242.5L197.5 248.8L203.8 253.1L208.8 258.1L212.5 265.0L218.1 266.9L225.0 272.5L232.5 278.8L235.0 283.8L237.5 288.1L240.0 288.8L245.0 288.1L250.0 286.9L255.0 285.6L258.8 285.6L261.9 286.9L266.9 285.6L271.2 285.2L277.5 286.2L285.0 286.2L290.0 287.1L295.0 291.9L300.0 295.0L305.0 298.8L308.8 302.5L313.8 305.0L320.0 306.2L326.2 307.5L332.5 310.6L335.0 309.4L341.2 310.0L345.0 311.2L343.1 313.8L343.8 316.9L348.8 319.4L352.5 320.6L356.2 318.8L360.6 321.9L366.2 320.0L371.2 318.8L375.0 315.6L381.2 312.5L387.5 310.6L393.8 310.2L401.2 310.6L406.2 312.2L417.5 312.9L421.2 314.4L425.0 318.8L428.8 320.2L433.8 318.8L439.4 318.5L443.8 321.2L448.8 325.6L451.2 323.1L457.5 320.6L465.0 318.1L472.5 315.0L480.0 312.2L487.5 309.4L493.8 306.9L496.9 304.4L497.5 301.9L493.8 301.2L495.0 298.8L498.1 297.5L494.4 295.0L498.8 296.2L500.0 300.0L499.4 304.4L502.5 304.4L506.9 303.1L508.8 298.8L512.5 295.6L516.9 291.9L520.0 290.0L527.0 285.0L533.8 280.0L534.4 277.5L536.9 272.5L539.4 268.1L543.8 265.0L547.5 261.9L552.5 258.1L553.1 253.8L554.4 249.4L555.6 243.8L558.1 238.8L561.2 236.2L565.0 235.0L571.2 231.2L577.5 226.9L585.0 220.0L591.2 215.0L600.0 208.1L605.0 203.8L610.0 198.8L618.1 190.0L621.2 182.5L625.0 175.0L629.4 167.5L631.2 160.0L633.8 152.5L636.2 145.0L640.0 138.8L642.5 133.8L646.9 126.2L650.2 124.0L654.7 121.0L658.8 117.7L663.6 112.8L667.7 108.8L671.0 105.9L674.2 103.5L678.3 101.5L682.3 99.0L686.0 97.0L690.0 95.1L702.5 88.2L715.0 79.5L727.5 70.1L737.5 60.8L745.0 53.2L755.0 42.0L763.8 29.5L765.0 27.0M240.0 28.9L233.8 29.5L233.8 32.0L234.4 33.2L237.5 38.2L236.2 45.8L234.4 49.5L235.0 52.6L232.5 56.4L228.8 60.1L227.5 63.2L223.8 68.2L222.5 69.5L225.0 71.4L224.4 73.2L227.5 74.5L228.1 77.0L226.9 82.0L226.2 87.0L225.6 92.0L223.8 94.5L217.5 96.4L213.8 98.2L212.5 100.8L215.0 103.2L216.2 107.0L216.9 112.0L215.6 117.0L213.1 120.1L216.2 123.2L220.6 130.0L211.9 141.9M372.0 42.5L375.0 42.3L379.5 41.8L382.9 40.6L386.2 37.8L389.6 36.1L391.3 33.3L394.1 32.2L397.5 31.6L398.0 29.4L396.4 28.2L402.0 28.2L406.0 27.5L408.8 30.5L412.0 32.0L415.5 37.2L419.0 39.0L421.0 46.0L425.0 49.0L428.0 54.0L437.0 59.0L442.0 55.0L447.0 61.0L455.0 66.0L460.0 68.0L466.0 69.0L472.0 71.0L482.0 77.0L488.0 87.0L494.0 92.0L502.0 97.0L508.0 102.0L512.0 100.0L516.0 101.0L520.0 104.0L525.0 105.0L528.0 110.0L536.0 113.0L538.0 119.0L540.0 123.1L542.5 125.0L543.1 133.8L548.1 140.0L551.2 143.1L555.0 145.0L560.0 149.8L568.8 153.1L573.1 154.0L578.8 157.5L583.1 161.9L577.5 168.1L571.2 171.9L568.8 175.0L568.1 178.8L563.8 181.0L558.8 183.8L553.8 188.8L551.2 193.8L551.9 198.8L552.5 205.0L553.1 210.0L551.9 216.2L551.2 222.5L551.2 228.1L553.1 230.6L557.5 231.2L559.4 233.8L561.2 236.2M701.9 27.5L701.2 30.8L701.9 34.5L701.9 39.5L703.8 42.0L702.5 43.2L695.0 45.0L690.6 46.9L689.4 48.8L689.4 53.8L688.1 55.0L678.8 55.6L675.0 56.9L670.0 58.8L667.3 60.0L666.1 62.4L664.5 64.9M656.3 78.3L658.0 76.7L660.4 77.5L661.2 79.5L660.0 80.3L657.5 79.9L656.3 78.3M660.8 81.1L659.6 83.6L657.1 86.0L652.3 87.6L648.2 88.9L647.4 91.7L647.8 94.1L645.8 97.0L645.3 99.0L648.2 99.8L651.0 101.9L653.5 103.9L649.8 105.5L645.8 107.2L645.3 110.4L644.9 112.8L646.6 114.5L648.2 115.7L651.4 116.1L652.5 116.9M657.1 120.2L658.8 116.9L660.4 113.7L660.4 110.4L661.2 107.2L662.8 104.7L660.0 101.5L657.5 98.2L657.5 95.8L660.4 95.0L664.0 95.8L666.9 97.8L669.3 99.4L673.4 99.0L675.8 97.4L676.7 95.4L678.3 94.1L679.9 93.3L681.5 94.1L686.0 92.9L690.0 88.5L695.0 84.5L700.0 79.5L702.5 80.8L701.9 77.6L703.8 75.1L705.0 72.0L706.9 73.9L709.4 74.5L714.4 73.2L718.8 70.8L721.9 66.4L723.8 60.8L724.4 53.9L723.1 48.9L723.8 44.5L725.0 41.4L727.5 40.8L731.2 41.4L734.4 40.1L736.9 40.5L736.9 44.5L738.8 44.5L740.0 42.0L738.1 41.4L736.9 37.0L738.1 32.6L737.5 29.5L739.4 27.5M664.0 77.2L664.0 79.8" stroke="#000" stroke-width="1" fill="none" shape-rendering="crispEdges"/><path d="M0 27.5H800M0.5 27V772.5M1.5 28V32M1.5 772.5V768.5M9.5 28V45M9.5 772.5V755.5M16.5 28V32M16.5 772.5V768.5M23.5 28V32M23.5 772.5V768.5M30.5 28V32M30.5 772.5V768.5M38.5 28V32M38.5 772.5V768.5M45.5 28V37M45.5 772.5V763.5M52.5 28V32M52.5 772.5V768.5M59.5 28V32M59.5 772.5V768.5M67.5 28V32M67.5 772.5V768.5M74.5 28V32M74.5 772.5V768.5M81.5 28V45M81.5 772.5V755.5M89.5 28V32M89.5 772.5V768.5M96.5 28V32M96.5 772.5V768.5M103.5 28V32M103.5 772.5V768.5M110.5 28V32M110.5 772.5V768.5M118.5 28V37M118.5 772.5V763.5M125.5 28V32M125.5 772.5V768.5M132.5 28V32M132.5 772.5V768.5M139.5 28V32M139.5 772.5V768.5M147.5 28V32M147.5 772.5V768.5M154.5 28V45M154.5 772.5V755.5M161.5 28V32M161.5 772.5V768.5M169.5 28V32M169.5 772.5V768.5M176.5 28V32M176.5 772.5V768.5M183.5 28V32M183.5 772.5V768.5M190.5 28V37M190.5 772.5V763.5M198.5 28V32M198.5 772.5V768.5M205.5 28V32M205.5 772.5V768.5M212.5 28V32M212.5 772.5V768.5M219.5 28V32M219.5 772.5V768.5M227.5 28V45M227.5 772.5V755.5M234.5 28V32M234.5 772.5V768.5M241.5 28V32M241.5 772.5V768.5M249.5 28V32M249.5 772.5V768.5M256.5 28V32M256.5 772.5V768.5M263.5 28V37M263.5 772.5V763.5M270.5 28V32M270.5 772.5V768.5M278.5 28V32M278.5 772.5V768.5M285.5 28V32M285.5 772.5V768.5M292.5 28V32M292.5 772.5V768.5M300.5 28V45M300.5 772.5V755.5M307.5 28V32M307.5 772.5V768.5M314.5 28V32M314.5 772.5V768.5M321.5 28V32M321.5 772.5V768.5M329.5 28V32M329.5 772.5V768.5M336.5 28V37M336.5 772.5V763.5M343.5 28V32M343.5 772.5V768.5M350.5 28V32M350.5 772.5V768.5M358.5 28V32M358.5 772.5V768.5M365.5 28V32M365.5 772.5V768.5M372.5 28V45M372.5 772.5V755.5M380.5 28V32M380.5 772.5V768.5M387.5 28V32M387.5 772.5V768.5M394.5 28V32M394.5 772.5V768.5M401.5 28V32M401.5 772.5V768.5M409.5 28V37M409.5 772.5V763.5M416.5 28V32M416.5 772.5V768.5M423.5 28V32M423.5 772.5V768.5M430.5 28V32M430.5 772.5V768.5M438.5 28V32M438.5 772.5V768.5M445.5 28V45M445.5 772.5V755.5M452.5 28V32M452.5 772.5V768.5M460.5 28V32M460.5 772.5V768.5M467.5 28V32M467.5 772.5V768.5M474.5 28V32M474.5 772.5V768.5M481.5 28V37M481.5 772.5V763.5M489.5 28V32M489.5 772.5V768.5M496.5 28V32M496.5 772.5V768.5M503.5 28V32M503.5 772.5V768.5M510.5 28V32M510.5 772.5V768.5M518.5 28V45M518.5 772.5V755.5M525.5 28V32M525.5 772.5V768.5M532.5 28V32M532.5 772.5V768.5M539.5 28V32M539.5 772.5V768.5M547.5 28V32M547.5 772.5V768.5M554.5 28V37M554.5 772.5V763.5M561.5 28V32M561.5 772.5V768.5M569.5 28V32M569.5 772.5V768.5M576.5 28V32M576.5 772.5V768.5M583.5 28V32M583.5 772.5V768.5M590.5 28V45M590.5 772.5V755.5M598.5 28V32M598.5 772.5V768.5M605.5 28V32M605.5 772.5V768.5M612.5 28V32M612.5 772.5V768.5M620.5 28V32M620.5 772.5V768.5M627.5 28V37M627.5 772.5V763.5M634.5 28V32M634.5 772.5V768.5M641.5 28V32M641.5 772.5V768.5M649.5 28V32M649.5 772.5V768.5M656.5 28V32M656.5 772.5V768.5M663.5 28V45M663.5 772.5V755.5M670.5 28V32M670.5 772.5V768.5M678.5 28V32M678.5 772.5V768.5M685.5 28V32M685.5 772.5V768.5M692.5 28V32M692.5 772.5V768.5M700.5 28V37M700.5 772.5V763.5M707.5 28V32M707.5 772.5V768.5M714.5 28V32M714.5 772.5V768.5M721.5 28V32M721.5 772.5V768.5M729.5 28V32M729.5 772.5V768.5M736.5 28V45M736.5 772.5V755.5M743.5 28V32M743.5 772.5V768.5M750.5 28V32M750.5 772.5V768.5M758.5 28V32M758.5 772.5V768.5M765.5 28V32M765.5 772.5V768.5M772.5 28V37M772.5 772.5V763.5M780.5 28V32M780.5 772.5V768.5M787.5 28V32M787.5 772.5V768.5M794.5 28V32M794.5 772.5V768.5M1 28.5H5M800 28.5H796M1 36.5H19M800 36.5H782M1 43.5H5M800 43.5H796M1 50.5H5M800 50.5H796M1 57.5H5M800 57.5H796M1 65.5H5M800 65.5H796M1 72.5H10M800 72.5H791M1 79.5H5M800 79.5H796M1 86.5H5M800 86.5H796M1 94.5H5M800 94.5H796M1 101.5H5M800 101.5H796M1 108.5H19M800 108.5H782M1 116.5H5M800 116.5H796M1 123.5H5M800 123.5H796M1 130.5H5M800 130.5H796M1 137.5H5M800 137.5H796M1 145.5H10M800 145.5H791M1 152.5H5M800 152.5H796M1 159.5H5M800 159.5H796M1 166.5H5M800 166.5H796M1 174.5H5M800 174.5H796M1 181.5H19M800 181.5H782M1 188.5H5M800 188.5H796M1 196.5H5M800 196.5H796M1 203.5H5M800 203.5H796M1 210.5H5M800 210.5H796M1 217.5H10M800 217.5H791M1 225.5H5M800 225.5H796M1 232.5H5M800 232.5H796M1 239.5H5M800 239.5H796M1 246.5H5M800 246.5H796M1 254.5H19M800 254.5H782M1 261.5H5M800 261.5H796M1 268.5H5M800 268.5H796M1 276.5H5M800 276.5H796M1 283.5H5M800 283.5H796M1 290.5H10M800 290.5H791M1 297.5H5M800 297.5H796M1 305.5H5M800 305.5H796M1 312.5H5M800 312.5H796M1 319.5H5M800 319.5H796M1 327.5H19M800 327.5H782M1 334.5H5M800 334.5H796M1 341.5H5M800 341.5H796M1 348.5H5M800 348.5H796M1 356.5H5M800 356.5H796M1 363.5H10M800 363.5H791M1 370.5H5M800 370.5H796M1 377.5H5M800 377.5H796M1 385.5H5M800 385.5H796M1 392.5H5M800 392.5H796M1 399.5H19M800 399.5H782M1 407.5H5M800 407.5H796M1 414.5H5M800 414.5H796M1 421.5H5M800 421.5H796M1 428.5H5M800 428.5H796M1 436.5H10M800 436.5H791M1 443.5H5M800 443.5H796M1 450.5H5M800 450.5H796M1 457.5H5M800 457.5H796M1 465.5H5M800 465.5H796M1 472.5H19M800 472.5H782M1 479.5H5M800 479.5H796M1 487.5H5M800 487.5H796M1 494.5H5M800 494.5H796M1 501.5H5M800 501.5H796M1 508.5H10M800 508.5H791M1 516.5H5M800 516.5H796M1 523.5H5M800 523.5H796M1 530.5H5M800 530.5H796M1 537.5H5M800 537.5H796M1 545.5H19M800 545.5H782M1 552.5H5M800 552.5H796M1 559.5H5M800 559.5H796M1 566.5H5M800 566.5H796M1 574.5H5M800 574.5H796M1 581.5H10M800 581.5H791M1 588.5H5M800 588.5H796M1 596.5H5M800 596.5H796M1 603.5H5M800 603.5H796M1 610.5H5M800 610.5H796M1 617.5H19M800 617.5H782M1 625.5H5M800 625.5H796M1 632.5H5M800 632.5H796M1 639.5H5M800 639.5H796M1 647.5H5M800 647.5H796M1 654.5H10M800 654.5H791M1 661.5H5M800 661.5H796M1 668.5H5M800 668.5H796M1 676.5H5M800 676.5H796M1 683.5H5M800 683.5H796M1 690.5H19M800 690.5H782M1 697.5H5M800 697.5H796M1 705.5H5M800 705.5H796M1 712.5H5M800 712.5H796M1 719.5H5M800 719.5H796M1 727.5H10M800 727.5H791M1 734.5H5M800 734.5H796M1 741.5H5M800 741.5H796M1 748.5H5M800 748.5H796M1 756.5H5M800 756.5H796M1 763.5H19M800 763.5H782M1 770.5H5M800 770.5H796" stroke="#000" stroke-width="1" shape-rendering="crispEdges"/><g class="t" font-size="25.3"><text x="4.3" y="50">modelo GEFS-WAVE (NCEP)</text><text x="5.5" y="73">forecast date:</text><text x="212.5" y="73" textLength="288.8" lengthAdjust="spacingAndGlyphs">2025-11-06 06:00:00</text><text x="41.7" y="96">valid date:</text><text x="201.8" y="96" textLength="288.1" lengthAdjust="spacingAndGlyphs">2025-11-10 12:00:00</text></g><rect x="32.5" y="160.5" width="49" height="608" fill="#fff" stroke="#000" stroke-width="1" shape-rendering="crispEdges"/><rect x="34" y="162" width="46" height="605" fill="url(#cb)" shape-rendering="crispEdges"/><g class="h" font-size="14.7"><text x="34" y="147" font-size="16" textLength="43.5" lengthAdjust="spacingAndGlyphs">[m/s]</text><text x="86.3" y="164.6">30</text><text x="86.1" y="316.8">22</text><text x="86.3" y="469">15</text><text x="86.5" y="620.8">8</text><text x="86.6" y="772.5">0</text></g></svg></body></html>
